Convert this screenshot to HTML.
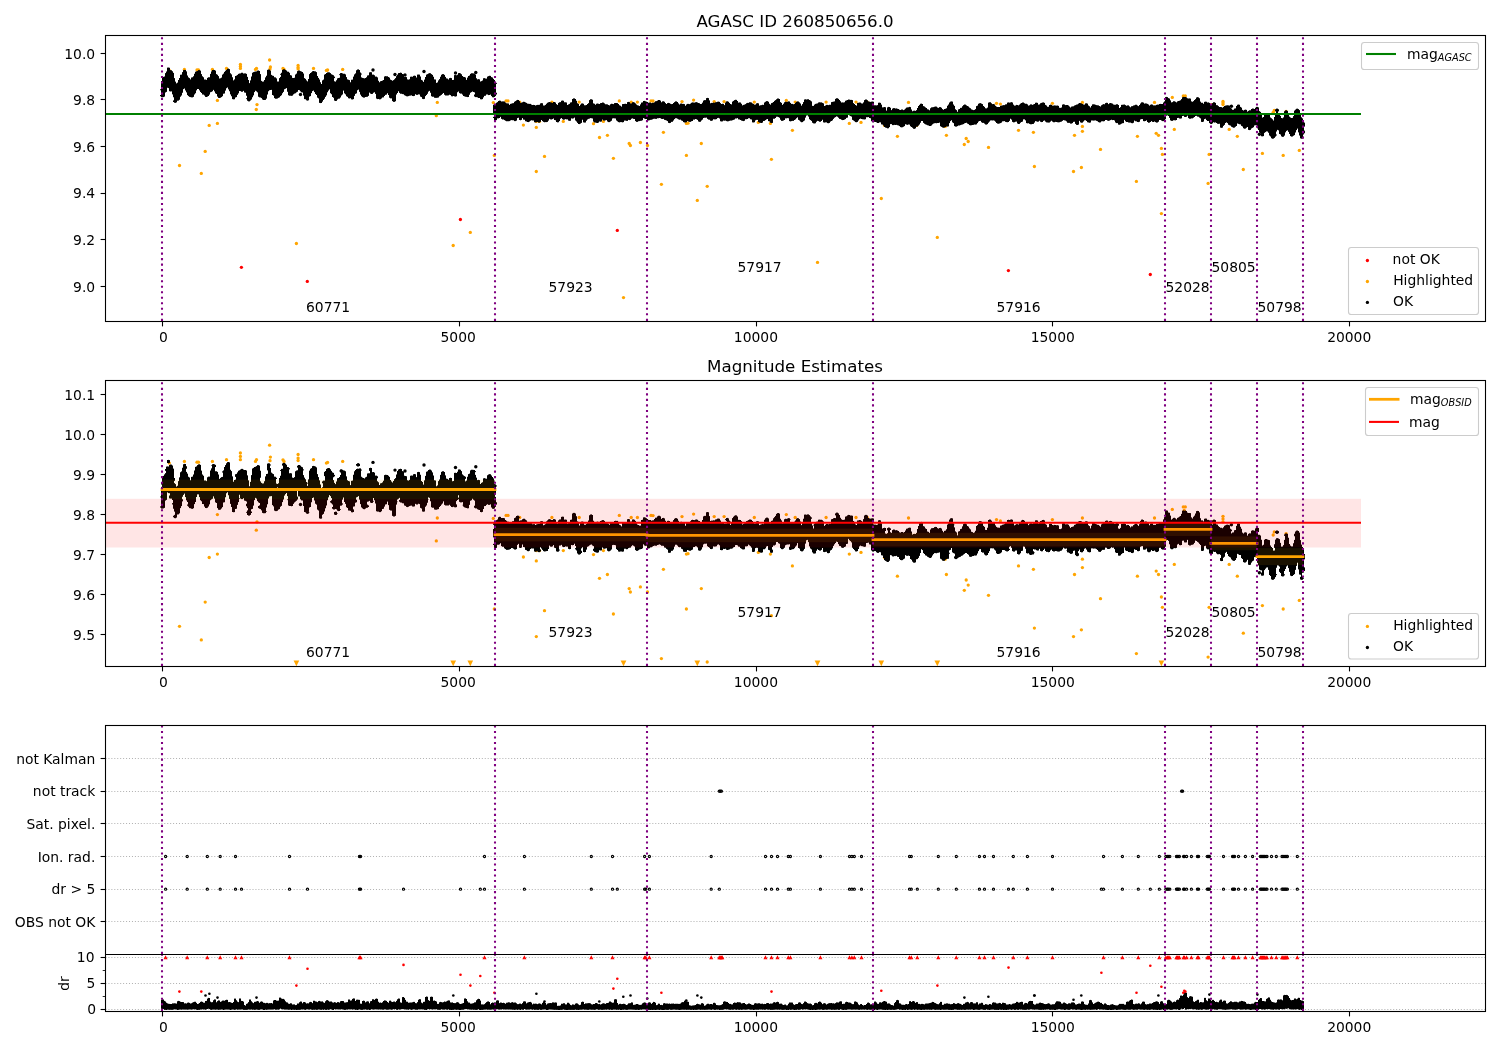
<!DOCTYPE html><html><head><meta charset="utf-8"><title>AGASC ID 260850656.0</title><style>html,body{margin:0;padding:0;background:#fff;overflow:hidden}svg{display:block}</style></head><body><svg width="1500" height="1050" viewBox="0 0 1500 1050" font-family="DejaVu Sans, Liberation Sans, sans-serif" font-size="13.89" fill="#000"><rect width="1500" height="1050" fill="#fff"/><defs><clipPath id="c1"><rect x="105.5" y="35.5" width="1380.0" height="286.0"/></clipPath><clipPath id="c2"><rect x="105.5" y="380.5" width="1380.0" height="286.0"/></clipPath><clipPath id="c3u"><rect x="105.5" y="725.5" width="1380.0" height="229.0"/></clipPath><clipPath id="c3l"><rect x="105.5" y="954.5" width="1380.0" height="57.0"/></clipPath></defs><g clip-path="url(#c1)"><g fill="#f00"><circle cx="241.4" cy="267.3" r="1.65"/><circle cx="307.3" cy="281.4" r="1.65"/><circle cx="460.4" cy="219.5" r="1.65"/><circle cx="617.3" cy="230.4" r="1.65"/><circle cx="1008.4" cy="270.6" r="1.65"/><circle cx="1150.3" cy="274.5" r="1.65"/></g><g fill="#ffa500"><circle cx="179.5" cy="165.5" r="1.65"/><circle cx="201.3" cy="173.4" r="1.65"/><circle cx="205.2" cy="151.4" r="1.65"/><circle cx="209.2" cy="125.4" r="1.65"/><circle cx="217.4" cy="123.4" r="1.65"/><circle cx="217.4" cy="100.4" r="1.65"/><circle cx="257.0" cy="104.6" r="1.65"/><circle cx="256.3" cy="109.5" r="1.65"/><circle cx="296.4" cy="243.5" r="1.65"/><circle cx="437.3" cy="102.4" r="1.65"/><circle cx="436.3" cy="115.7" r="1.65"/><circle cx="453.2" cy="245.5" r="1.65"/><circle cx="470.3" cy="232.4" r="1.65"/><circle cx="494.3" cy="155.4" r="1.65"/><circle cx="493.3" cy="102.6" r="1.65"/><circle cx="169.3" cy="70.4" r="1.65"/><circle cx="184.4" cy="69.4" r="1.65"/><circle cx="197.0" cy="69.9" r="1.65"/><circle cx="198.5" cy="69.9" r="1.65"/><circle cx="212.4" cy="69.4" r="1.65"/><circle cx="226.5" cy="68.4" r="1.65"/><circle cx="240.4" cy="64.5" r="1.65"/><circle cx="240.4" cy="66.5" r="1.65"/><circle cx="240.4" cy="68.4" r="1.65"/><circle cx="256.5" cy="68.4" r="1.65"/><circle cx="255.5" cy="69.4" r="1.65"/><circle cx="269.6" cy="60.0" r="1.65"/><circle cx="270.4" cy="66.9" r="1.65"/><circle cx="270.0" cy="69.0" r="1.65"/><circle cx="284.0" cy="69.4" r="1.65"/><circle cx="283.0" cy="68.5" r="1.65"/><circle cx="298.1" cy="65.4" r="1.65"/><circle cx="298.1" cy="67.5" r="1.65"/><circle cx="298.1" cy="68.9" r="1.65"/><circle cx="313.5" cy="68.4" r="1.65"/><circle cx="326.4" cy="70.4" r="1.65"/><circle cx="327.6" cy="70.0" r="1.65"/><circle cx="342.7" cy="69.4" r="1.65"/><circle cx="523.4" cy="125.1" r="1.65"/><circle cx="536.3" cy="127.4" r="1.65"/><circle cx="536.3" cy="121.4" r="1.65"/><circle cx="539.5" cy="121.4" r="1.65"/><circle cx="544.5" cy="156.4" r="1.65"/><circle cx="536.3" cy="171.5" r="1.65"/><circle cx="563.3" cy="121.4" r="1.65"/><circle cx="593.5" cy="123.7" r="1.65"/><circle cx="603.4" cy="121.4" r="1.65"/><circle cx="599.5" cy="137.5" r="1.65"/><circle cx="607.4" cy="135.3" r="1.65"/><circle cx="613.4" cy="158.3" r="1.65"/><circle cx="629.2" cy="143.5" r="1.65"/><circle cx="630.4" cy="145.5" r="1.65"/><circle cx="640.4" cy="142.5" r="1.65"/><circle cx="647.5" cy="145.5" r="1.65"/><circle cx="623.5" cy="297.6" r="1.65"/><circle cx="663.4" cy="132.3" r="1.65"/><circle cx="661.4" cy="184.3" r="1.65"/><circle cx="686.4" cy="155.4" r="1.65"/><circle cx="686.4" cy="123.4" r="1.65"/><circle cx="688.0" cy="123.2" r="1.65"/><circle cx="701.3" cy="143.5" r="1.65"/><circle cx="707.2" cy="186.3" r="1.65"/><circle cx="697.3" cy="200.4" r="1.65"/><circle cx="758.3" cy="122.4" r="1.65"/><circle cx="770.4" cy="123.4" r="1.65"/><circle cx="771.4" cy="159.3" r="1.65"/><circle cx="792.4" cy="130.3" r="1.65"/><circle cx="817.5" cy="262.4" r="1.65"/><circle cx="506.1" cy="100.9" r="1.65"/><circle cx="508.0" cy="100.9" r="1.65"/><circle cx="519.7" cy="102.1" r="1.65"/><circle cx="551.9" cy="102.1" r="1.65"/><circle cx="579.2" cy="102.1" r="1.65"/><circle cx="619.3" cy="100.9" r="1.65"/><circle cx="631.2" cy="102.1" r="1.65"/><circle cx="637.4" cy="102.1" r="1.65"/><circle cx="651.0" cy="100.9" r="1.65"/><circle cx="653.0" cy="101.0" r="1.65"/><circle cx="682.0" cy="101.6" r="1.65"/><circle cx="693.6" cy="100.1" r="1.65"/><circle cx="714.2" cy="101.6" r="1.65"/><circle cx="724.1" cy="101.6" r="1.65"/><circle cx="754.3" cy="102.1" r="1.65"/><circle cx="786.3" cy="100.4" r="1.65"/><circle cx="795.2" cy="102.1" r="1.65"/><circle cx="826.1" cy="102.1" r="1.65"/><circle cx="849.3" cy="123.4" r="1.65"/><circle cx="861.0" cy="122.4" r="1.65"/><circle cx="884.5" cy="125.4" r="1.65"/><circle cx="901.8" cy="125.4" r="1.65"/><circle cx="914.2" cy="125.4" r="1.65"/><circle cx="916.7" cy="125.4" r="1.65"/><circle cx="897.4" cy="136.3" r="1.65"/><circle cx="881.3" cy="198.5" r="1.65"/><circle cx="937.3" cy="237.4" r="1.65"/><circle cx="945.2" cy="126.4" r="1.65"/><circle cx="946.4" cy="135.3" r="1.65"/><circle cx="966.2" cy="138.5" r="1.65"/><circle cx="968.2" cy="141.5" r="1.65"/><circle cx="964.3" cy="144.5" r="1.65"/><circle cx="988.5" cy="147.4" r="1.65"/><circle cx="1018.5" cy="130.3" r="1.65"/><circle cx="1033.4" cy="132.3" r="1.65"/><circle cx="1034.4" cy="166.5" r="1.65"/><circle cx="1074.5" cy="135.3" r="1.65"/><circle cx="1082.4" cy="126.4" r="1.65"/><circle cx="1082.4" cy="131.3" r="1.65"/><circle cx="1073.5" cy="171.5" r="1.65"/><circle cx="1081.4" cy="167.5" r="1.65"/><circle cx="1100.5" cy="149.4" r="1.65"/><circle cx="1137.4" cy="136.3" r="1.65"/><circle cx="1136.4" cy="181.4" r="1.65"/><circle cx="1156.2" cy="133.3" r="1.65"/><circle cx="1158.5" cy="135.3" r="1.65"/><circle cx="1161.4" cy="148.4" r="1.65"/><circle cx="1162.4" cy="154.4" r="1.65"/><circle cx="1161.4" cy="213.6" r="1.65"/><circle cx="1174.3" cy="129.4" r="1.65"/><circle cx="1172.3" cy="97.4" r="1.65"/><circle cx="856.0" cy="102.1" r="1.65"/><circle cx="867.2" cy="102.1" r="1.65"/><circle cx="908.5" cy="102.4" r="1.65"/><circle cx="996.5" cy="103.3" r="1.65"/><circle cx="1000.4" cy="104.1" r="1.65"/><circle cx="1052.4" cy="103.3" r="1.65"/><circle cx="1082.4" cy="102.4" r="1.65"/><circle cx="1154.5" cy="102.4" r="1.65"/><circle cx="1183.3" cy="95.9" r="1.65"/><circle cx="1185.3" cy="95.9" r="1.65"/><circle cx="1184.2" cy="98.0" r="1.65"/><circle cx="1211.8" cy="104.6" r="1.65"/><circle cx="1223.0" cy="101.4" r="1.65"/><circle cx="1223.0" cy="103.0" r="1.65"/><circle cx="1223.0" cy="104.6" r="1.65"/><circle cx="1209.1" cy="154.4" r="1.65"/><circle cx="1208.1" cy="183.4" r="1.65"/><circle cx="1229.2" cy="129.4" r="1.65"/><circle cx="1237.3" cy="136.3" r="1.65"/><circle cx="1243.3" cy="169.5" r="1.65"/><circle cx="1262.4" cy="153.4" r="1.65"/><circle cx="1274.3" cy="110.5" r="1.65"/><circle cx="1273.2" cy="112.3" r="1.65"/><circle cx="1286.1" cy="111.5" r="1.65"/><circle cx="1283.2" cy="155.4" r="1.65"/><circle cx="1299.3" cy="150.4" r="1.65"/></g><path d="M160.5 89.25V90.25M160.5 95V96.25M161.5 81V97.25M162.5 77.75V97.38M163.5 76.88V97.12M164.5 76.5V96.62M165.5 73.12V92.5M166.5 71.5V91.88M167.5 67.62V87.75M168.5 67.5V88.12M169.5 67.75V91.25M170.5 70.12V91.5M171.5 70.25V91.38M172.5 71.25V94.38M173.5 72.88V97.25M173.5 100.38V102M174.5 78.12V102.75M175.5 81.62V102.88M176.5 83.38V102.38M177.5 82.62V100.75M178.5 80V100.62M179.5 78V99.75M180.5 74.75V96.75M181.5 74.62V95.5M182.5 72.12V92.75M183.5 70.12V89.12M184.5 69.88V88.5M185.5 70V90.5M186.5 71.38V92.38M187.5 75.5V95.12M188.5 77.38V96.12M189.5 78.12V96.88M190.5 79.38V97.12M191.5 77.5V97.38M192.5 77.25V97.38M193.5 76.25V96.88M194.5 73.75V94.5M195.5 71.75V93.25M196.5 71.25V90.38M197.5 70.88V89M198.5 70.12V89M199.5 70.12V90.38M200.5 70.62V92M201.5 74.12V93M202.5 76.25V94.5M203.5 77.25V94.62M204.5 79.5V95.5M205.5 79.5V96.88M206.5 79.88V97M207.5 77.88V96.62M208.5 77.25V96M209.5 77.25V94.62M210.5 73.88V92.25M211.5 71.38V91.88M212.5 70V91.25M213.5 69.88V89.88M214.5 70V91.38M215.5 70.62V93.38M216.5 74.12V94M217.5 74.75V96.62M218.5 76.12V97.88M219.5 78.5V98M220.5 78.25V97.75M221.5 77.62V97.12M222.5 74.62V96.25M223.5 73.62V93.75M224.5 71.88V93.5M225.5 70.75V90.62M226.5 69.88V88.25M227.5 68.75V87.5M228.5 68.62V89.38M229.5 69.12V91.25M230.5 73.25V94.38M231.5 74.38V96.25M232.5 77.25V99.12M233.5 80.38V99.38M234.5 79.38V99.25M235.5 76V97.5M236.5 75.62V97.12M237.5 74.88V94.88M238.5 73.88V93.38M239.5 73.5V91M240.5 73.38V91.12M241.5 72.75V91.75M242.5 72.75V91.75M243.5 73.5V90.88M244.5 73.38V92.5M245.5 73.38V92.75M246.5 73.88V95.75M246.5 98.25V99.12M247.5 76.88V100.75M248.5 80V101.38M249.5 83.12V101.38M250.5 80.38V100.5M251.5 76.5V99.5M252.5 72.75V97.25M253.5 72.12V95.38M254.5 71.75V92.12M255.5 71.5V90.75M256.5 71.38V91.38M257.5 70.62V92.38M258.5 70.5V96.75M259.5 71V97.38M260.5 74.12V97.5M261.5 80.88V98.12M262.5 81.62V99.5M263.5 81.5V100M264.5 80V100M265.5 77.38V99.88M266.5 75.75V98.62M267.5 69.88V94.5M268.5 69.5V91.25M269.5 69.62V90.25M270.5 70.62V90M271.5 74.88V89.88M272.5 75.62V95M273.5 75.88V95.62M274.5 77.25V98.12M275.5 77.38V98.75M276.5 78.38V98.75M277.5 81.5V98.5M278.5 81.5V97.88M279.5 78.12V97.38M280.5 73.88V74.75M280.5 76.88V96.12M281.5 72.75V95.25M282.5 69.88V93.25M283.5 69.25V91.88M284.5 69.25V89.25M285.5 69.88V88.75M286.5 70.5V88.12M287.5 71.62V91.75M288.5 71.75V95.25M289.5 72.75V95.75M290.5 75.12V95.75M291.5 75.5V95.88M292.5 77.88V95.62M293.5 78V94.38M294.5 77.75V93.62M295.5 74.5V93.25M296.5 73.62V92.38M297.5 71.12V91.75M298.5 70.5V90M299.5 70.5V90.25M300.5 71.12V91.38M301.5 71.5V92.38M302.5 72V92.5M303.5 73.5V95.62M304.5 78.12V99.12M305.5 78.88V99.25M306.5 80.38V99M307.5 81.38V98.88M308.5 79V98.62M309.5 74.12V96.62M310.5 73V96.12M311.5 72.25V93.12M312.5 71.25V91.12M313.5 71V90.62M314.5 71.25V92.12M315.5 71.38V94M316.5 72.12V95M317.5 76V97.62M318.5 77.88V98.38M319.5 79.5V102.88M320.5 82.25V103.12M321.5 84V103M322.5 80.38V101.62M323.5 79.62V100M324.5 74.62V98.75M325.5 74V96.88M326.5 73V95.38M327.5 72.38V92.25M328.5 72.25V90.62M329.5 72.38V89.38M330.5 73.12V93.25M331.5 74.25V94.25M332.5 74.75V97M333.5 75.25V97.75M334.5 76.62V78.12M334.5 81.25V100.62M335.5 81.62V101M336.5 80.25V100.88M337.5 78.38V99.5M338.5 78V98.75M339.5 74.25V75.12M339.5 77.75V98.62M340.5 73.12V97.5M341.5 73V95.5M342.5 73.38V94.5M343.5 73.75V90.62M344.5 73.75V93.38M345.5 74.38V94.38M346.5 77.12V96.25M347.5 79.38V96.88M348.5 79.75V98.25M349.5 80.12V98.5M350.5 82.25V98.25M351.5 79.75V99.38M352.5 79.62V99.5M353.5 76.62V99.12M354.5 74.38V95.88M355.5 73.38V93.88M356.5 70.25V93.38M357.5 69.5V90.25M358.5 69.38V89.62M359.5 70V91.88M360.5 72.5V94.62M361.5 73.62V74.5M361.5 77.38V96.25M362.5 77.88V97.12M363.5 78.12V97.62M364.5 78.38V97.62M365.5 78V97M366.5 77.25V96.88M367.5 75.5V96.75M368.5 75.25V95.88M369.5 72.38V92.62M370.5 72.12V93.62M371.5 72.25V94M372.5 74.62V93.88M373.5 74.62V92.75M374.5 75.25V92.25M375.5 76.62V93.88M376.5 76.62V98.62M377.5 77.38V99.12M378.5 80.75V99M379.5 82.25V99.38M380.5 81.25V99.25M381.5 81V98.5M382.5 80.62V97.5M383.5 80V97.38M384.5 76.5V96M385.5 76.12V94.88M386.5 76.25V94.62M387.5 76.25V93.25M388.5 77V95M389.5 77.62V97.75M390.5 79.62V98.38M391.5 80.12V98.38M392.5 80.75V101.12M393.5 80.12V101.88M394.5 79.25V101.88M395.5 78.12V101.25M396.5 76.12V94.5M397.5 74.62V93M398.5 73.12V91.25M399.5 73V92.88M400.5 72.62V93.75M401.5 72.88V93.75M402.5 74V94.12M403.5 74.25V94.25M404.5 77V95.25M405.5 76.88V95.75M406.5 77.12V96.25M407.5 79.38V96.38M408.5 79.62V96.12M409.5 79.25V95.75M410.5 76.75V95.62M411.5 76.62V95.38M412.5 76.75V96M413.5 75.88V96.12M414.5 75.62V95.88M415.5 75.88V94.25M416.5 77.5V94.88M417.5 74.62V94.88M418.5 74.5V94.38M419.5 74.62V94.5M420.5 76.5V96.62M421.5 79.88V97.12M422.5 80.5V98.88M423.5 81.88V99.12M424.5 79.62V98.88M425.5 77V96.12M426.5 74.62V95M427.5 74.12V93.75M428.5 73.5V91.62M429.5 73.12V90.88M430.5 73.25V92.75M431.5 74.12V96.25M432.5 74.88V96.75M433.5 76.75V96.75M434.5 79.38V97.75M435.5 79.5V97.88M436.5 82.88V97.88M437.5 82.38V97.75M438.5 80.38V97.5M439.5 79.12V96.25M440.5 76.75V95.62M441.5 74.75V94.88M442.5 74.12V93.88M443.5 74.12V93M444.5 74.88V94.75M445.5 76.88V95.5M446.5 78.38V95.5M447.5 78.62V95.5M448.5 79.5V95.38M449.5 78.12V94.75M450.5 77.88V95.12M451.5 78.12V96.25M452.5 80V96.38M453.5 79.88V96M454.5 75.12V96.38M455.5 75V96.62M456.5 75.25V96.25M457.5 74.75V92.25M458.5 73.12V91.5M459.5 73V93.12M460.5 73.38V93.62M461.5 74.25V93.62M462.5 76V94.62M463.5 76.88V96M464.5 77V96.38M465.5 77.5V96.75M466.5 79.88V96.88M467.5 77.62V97.12M468.5 76V97M469.5 75.5V94.75M470.5 73.88V92.75M471.5 73.25V92.12M472.5 73.25V91.5M473.5 73.38V92M474.5 73.5V92.38M474.5 94.5V96.5M475.5 74.5V97.12M476.5 78.25V97.12M477.5 79.38V97.38M478.5 79.12V98M479.5 79.38V98M480.5 81.5V99.25M481.5 81.12V99.38M482.5 80.5V99.12M483.5 78.25V97.38M484.5 78.12V95.88M485.5 78.5V95.75M486.5 78.62V94.5M487.5 76.62V94.5M488.5 76.12V95.12M489.5 75.75V95M490.5 75.88V94.62M491.5 77.12V96.12M492.5 77.5V97.25M493.5 78.88V97.38M493.5 104.75V113.75M493.5 116.88V118M494.5 80V97M494.5 103.88V120M495.5 81.75V96.12M495.5 103.88V120.25M496.5 82.88V83.88M496.5 92.75V94.5M496.5 102.75V120.12M497.5 102.12V118.38M498.5 101V118.38M499.5 100.62V118M500.5 100.75V116.88M501.5 101.5V118.88M502.5 101.38V119.5M503.5 101.38V119.5M504.5 101.5V120.12M505.5 102.5V120.75M506.5 103.25V121.25M507.5 103.38V121.25M508.5 103.5V121.25M509.5 104.88V121.12M510.5 103.88V120.5M511.5 103.62V120.12M512.5 103.25V120.25M513.5 103.12V120.25M514.5 101.75V121.12M515.5 101.12V121.12M516.5 100.38V120.62M517.5 99.88V118.12M518.5 100V117.75M519.5 101.12V120M520.5 102.75V120.25M521.5 102.62V119.88M522.5 102.25V118.12M523.5 101.75V119.62M524.5 101.88V119.75M525.5 102.38V121.25M526.5 102.88V121.5M527.5 103.62V122M528.5 103.75V122.12M529.5 103.88V121.62M530.5 103.88V120.75M531.5 104.62V120.25M532.5 105V120.5M533.5 104.88V120.5M534.5 105V122.25M535.5 105.5V122.38M536.5 105.12V122.25M537.5 104.88V122M538.5 104.88V122.62M539.5 104.75V122.62M540.5 103.38V121.88M541.5 103.12V120M542.5 103.25V121.12M543.5 105.5V121.88M544.5 105.5V122.25M545.5 104.88V122.12M546.5 103.75V122.12M547.5 102.75V121.88M548.5 102.25V120.62M549.5 102V118.88M550.5 102.25V119.38M551.5 102.5V119.5M552.5 102.88V119.12M553.5 102V118.5M554.5 102V120M555.5 102.5V120.25M556.5 104.12V122M557.5 104.88V122.38M558.5 102.88V122.25M559.5 102.25V121.12M560.5 102.12V118.75M561.5 100.75V118.12M562.5 100.5V119.25M563.5 100.75V119.75M564.5 102.25V119.62M565.5 102.25V119.12M566.5 102.5V119.38M567.5 105V119.38M568.5 104.38V120.62M569.5 103.88V120.88M570.5 102.5V120.75M571.5 102.25V118.38M572.5 99V118.62M573.5 98.38V118.38M574.5 98.38V117.62M575.5 99V120.5M576.5 100.75V121.5M577.5 103.25V122.88M578.5 103.88V124M579.5 106V124.12M580.5 104.62V123.62M581.5 103.5V122.88M582.5 103.38V119.75M583.5 103.75V122.38M584.5 105.25V122.62M585.5 105.25V122.5M586.5 105V120.75M587.5 104V119.5M588.5 103.12V118.88M589.5 100.12V118.62M590.5 99.25V118.12M591.5 99.25V118.25M592.5 99.75V118.5M593.5 103.38V121.62M594.5 103.75V122.5M595.5 104.75V122.62M596.5 103.75V122.88M597.5 103.5V123M598.5 103.75V122.62M599.5 104V121.5M600.5 103.12V121.75M601.5 103V121.5M602.5 102.5V119.62M603.5 102.62V120.5M604.5 103.38V120.62M605.5 104.25V120.38M606.5 104.25V120.12M607.5 104.38V121.5M608.5 105V122.12M609.5 105.38V122.12M610.5 104.25V121.5M611.5 103.75V120.75M612.5 103.88V118.5M613.5 104.12V118.25M614.5 103.12V118.38M615.5 103V118.5M616.5 103V120.5M617.5 103.12V121.38M618.5 104V122.12M619.5 105.25V122.38M620.5 105.75V122.12M621.5 106.62V122.12M622.5 104.12V122.38M623.5 104V122.12M624.5 103.88V120.62M625.5 103.75V120.62M626.5 104V120.88M627.5 102.12V120.88M628.5 101.88V119.88M629.5 102.12V120.12M630.5 103.38V119.88M631.5 103.38V118.75M632.5 102.25V118.38M633.5 102.12V118.88M634.5 102.5V119M635.5 103.38V121.12M636.5 104.5V121.88M637.5 105.25V121.88M638.5 105.5V121.25M639.5 106V121.12M640.5 104.38V120.88M641.5 102.62V120.75M642.5 102.38V120.25M643.5 101V118.12M644.5 100.88V118.62M645.5 101.25V119M646.5 101.62V119M647.5 102V120.38M648.5 102.75V120.5M649.5 102.5V120.25M650.5 102.5V119.88M651.5 103.12V119.75M652.5 102.75V119.38M653.5 102.75V118.88M654.5 102.25V118.75M655.5 101.25V118.88M656.5 101.12V118.88M657.5 100.62V118.25M658.5 100V118.25M659.5 100V118M660.5 100.62V118.25M661.5 102.25V118.88M662.5 101.38V119M663.5 101.25V118.88M664.5 101.75V119.88M665.5 103.12V120.12M666.5 104V120.5M667.5 103.12V121.12M668.5 102.88V122.88M669.5 103.12V123.12M670.5 103.75V122.88M671.5 104.12V121.88M672.5 104V121.75M673.5 103V120.5M674.5 102.12V119.12M675.5 101.38V118.25M676.5 101.38V118.25M677.5 102V118.75M678.5 103.38V119.38M679.5 104.5V119.75M680.5 103.62V119.62M681.5 103.5V120.5M682.5 103.88V120.88M683.5 103.88V122.12M684.5 104.12V122.5M685.5 105.75V122.5M686.5 104.5V122.25M687.5 103.88V121.12M688.5 103.88V121.62M689.5 104.12V121.88M690.5 103.62V121.88M691.5 102.75V121.25M692.5 102.38V121M693.5 102.5V119.62M694.5 102.62V119.62M695.5 102.25V119M696.5 102.12V119.25M697.5 102.5V119.88M698.5 103V121.5M699.5 103.25V121.88M700.5 104V121.75M701.5 103.88V120.5M702.5 102.62V119.62M703.5 100.62V118M704.5 100.12V117.75M705.5 100.12V117.75M706.5 98.12V117.62M707.5 97.88V118.88M708.5 98.12V119.62M709.5 100.38V119.75M710.5 103.25V120.75M711.5 102.88V120.88M712.5 102.88V120.5M713.5 102.62V119.25M714.5 102.75V119.38M715.5 102.25V119.38M716.5 102.12V119.12M717.5 101.75V118.12M718.5 101.62V117.88M719.5 101.88V118.5M720.5 103.12V121.25M721.5 104V121.5M722.5 103.75V121.38M723.5 103.88V120.62M724.5 105.12V120.75M725.5 102.5V120.62M726.5 101.38V121.12M727.5 101.25V121.38M728.5 101.75V121.25M729.5 102.88V120.88M730.5 104V120.62M731.5 104.38V120.62M732.5 101.62V120.25M733.5 100.88V119.88M734.5 100.12V119.5M735.5 99.75V118.5M736.5 99.88V118.5M737.5 101V118.12M738.5 102.62V119.38M739.5 102.38V119.5M740.5 102.5V120M741.5 103.75V120.62M742.5 105.38V120.88M743.5 104.88V121.12M744.5 104.62V120.75M745.5 104.12V119.25M746.5 103.25V119.25M747.5 102.88V119M748.5 102.88V118.25M749.5 102.25V118.25M750.5 102.25V119.25M751.5 102.5V119.5M752.5 103.38V122.38M753.5 103.88V122.5M754.5 104.62V122.25M755.5 104.5V120.38M756.5 103.38V119.88M757.5 103.12V119.88M758.5 103.38V122.12M759.5 105.62V122.62M760.5 105.25V122.88M761.5 105.12V123M762.5 104.75V122.62M763.5 104.88V121M764.5 102.5V120.88M765.5 101.75V120.12M766.5 101.12V119.38M767.5 101.12V119M768.5 101.75V121.12M769.5 103.75V121.5M770.5 104.62V122.75M771.5 103.12V123M772.5 102.75V122.88M773.5 102V118.75M774.5 100.88V118.75M775.5 100.12V118M776.5 99.25V116.75M777.5 98.5V116.75M778.5 98.5V117.12M779.5 99V117.75M780.5 102.12V119.75M781.5 102.88V120.88M782.5 104.88V120.88M783.5 103.75V120.5M784.5 102.25V120M785.5 101.75V118.38M786.5 101.88V118.38M787.5 101.75V118.12M788.5 101.38V118.25M789.5 101.5V121.12M790.5 102.88V121.38M791.5 103.88V121.12M792.5 103.88V120.88M793.5 104.25V120.88M794.5 104V120M795.5 102.75V119.38M796.5 101.88V118.25M797.5 101.38V117.38M798.5 101.5V119.88M799.5 102.38V120.5M800.5 103.5V121.62M801.5 105.62V122.25M802.5 104.12V122.12M803.5 102.12V121.25M804.5 99.5V120.5M805.5 99.25V117.62M806.5 99.5V115.62M807.5 99.25V115.38M808.5 99.25V116.62M809.5 100V119.25M810.5 100.5V120.12M811.5 101.38V120.88M812.5 105.88V122.75M813.5 105.88V123.38M814.5 104.62V123.5M815.5 103.88V123.25M816.5 103.62V121.75M817.5 103.38V120.88M818.5 102.5V121.12M819.5 102.25V121.75M820.5 102.38V121.75M821.5 102.38V121M822.5 102.88V119.75M823.5 103.38V122.38M824.5 106V122.62M825.5 105.5V122.38M826.5 104.88V122.38M827.5 104.88V123.12M828.5 105.12V123.25M829.5 104.75V122.88M830.5 104.75V121.62M831.5 102.12V121M832.5 101.88V120.38M833.5 101.62V118.88M834.5 101.38V117.75M835.5 98.88V117.12M836.5 98.25V116.38M837.5 98.25V116.75M838.5 98.88V117.75M839.5 100V118.88M840.5 101.25V119.12M841.5 102.5V119.75M842.5 102.38V120.12M843.5 102.5V120M844.5 102.25V119.62M845.5 100.75V119.12M846.5 100.38V117.88M847.5 100V117.62M848.5 99.5V114.62M849.5 99.62V115.5M850.5 99.88V116.12M851.5 99.88V116.62M852.5 100.12V119.88M853.5 103.12V120.5M854.5 104V121.25M855.5 105V122.12M856.5 105.62V122.25M857.5 102.88V121.88M858.5 102.75V120.5M859.5 102.5V119.12M860.5 102.62V118.62M861.5 103.38V119M862.5 103.5V119.25M863.5 102.38V119.38M864.5 100.12V119.5M865.5 99.5V119.25M866.5 99.5V117.25M867.5 100.25V117.25M868.5 101.38V117.12M869.5 101.62V118M870.5 101.88V118.25M871.5 101.62V121.25M872.5 101.5V122.25M873.5 101.75V122.38M874.5 105.25V121.88M875.5 105.25V122M876.5 105.38V122.38M877.5 105.12V123M878.5 102.75V123M879.5 102.62V122.38M880.5 102.88V122.38M881.5 104.62V124.38M882.5 107.38V124.62M883.5 107.25V125.62M884.5 107V127M885.5 107.25V127.62M886.5 110.62V127.88M887.5 107.38V128.38M888.5 106.88V128.25M889.5 107V127.12M890.5 107.75V124.12M891.5 110.12V124.12M892.5 108.62V125.12M893.5 108.12V125.12M894.5 108.12V124.88M895.5 108.5V125M896.5 108.38V124.88M897.5 108.75V125.25M898.5 109V125.5M899.5 109.75V126.12M900.5 110V127.12M901.5 109.5V127.38M902.5 109.5V127.25M903.5 110.12V126.75M904.5 109.62V126.12M905.5 108.62V124.25M906.5 107.62V124.62M907.5 107.38V124.88M908.5 107.25V124.5M909.5 106.88V124.62M910.5 107.12V126.25M911.5 109.5V127M912.5 111.25V127.75M913.5 110.75V128.75M914.5 110.62V128.88M915.5 110.88V128.38M916.5 110.12V126.75M917.5 108V126.62M918.5 106V125.62M919.5 104.88V124.5M920.5 103.75V122.75M921.5 103.62V121M922.5 104V121M923.5 106.12V122.88M924.5 106.5V123.75M925.5 107.38V124.38M926.5 108V124.75M927.5 109.25V125.25M928.5 109.5V125.5M929.5 110.25V126M930.5 108.25V126M931.5 107.38V125.5M932.5 107.25V124.38M933.5 107.12V123.62M934.5 106.75V123.25M935.5 106.5V123.12M936.5 106.62V123.25M937.5 107.5V123M938.5 107.88V123M939.5 107.12V122.62M940.5 107.12V126.25M941.5 107.75V126.88M942.5 109.12V127.5M943.5 109.75V127.75M944.5 109V127.5M945.5 108.75V127M946.5 108.25V126.5M947.5 105.75V126.62M948.5 104.5V126.38M949.5 102.5V123.12M950.5 101.62V121.12M951.5 101.38V120.25M952.5 101.62V122.38M953.5 104.5V123.12M954.5 105.88V126.12M955.5 109.25V126.62M956.5 110.12V126.62M957.5 111.75V126.12M958.5 109.38V125.5M959.5 109V125.5M960.5 107.88V125.12M961.5 107.75V124.75M962.5 106.25V124.5M963.5 105.12V124.12M964.5 104.5V123.38M965.5 104.62V123M966.5 105.38V122.75M967.5 106V123.62M968.5 106.5V124.12M969.5 107.62V125.12M970.5 108.25V125.38M971.5 109.38V125.25M972.5 109.75V125M973.5 110.12V124.88M974.5 109.88V124.5M975.5 109.12V124.62M976.5 106.12V124.38M977.5 105.62V123.12M978.5 103.75V121.62M979.5 103.25V121M980.5 103.12V120.88M981.5 103.62V122.25M982.5 104.12V122.88M983.5 106V122.88M984.5 106.88V123.62M985.5 108.25V124.5M986.5 108.38V124.62M987.5 107.62V124.12M988.5 102.62V122.75M989.5 102.25V121.62M990.5 102.25V120.5M991.5 103.25V120.38M992.5 104.12V120.5M993.5 104V120.38M994.5 104.38V120.75M995.5 105.75V121.75M996.5 106.62V123M997.5 107V123.62M998.5 107V123.75M999.5 107V123.5M1000.5 105.88V123.12M1001.5 105.62V122.62M1002.5 105.38V121.38M1003.5 105.12V121.25M1004.5 105.12V121.12M1005.5 104.38V121.88M1006.5 104.25V122.12M1007.5 102.62V122.25M1008.5 102.38V122M1009.5 102.62V120.88M1010.5 102.38V118.75M1011.5 102.12V119.62M1012.5 102.5V121.88M1013.5 104.62V122.38M1014.5 105.62V122.25M1015.5 105.5V121.75M1016.5 104.88V121.62M1017.5 105V123.5M1018.5 105.38V124M1019.5 104.62V123.88M1020.5 103.62V122.75M1021.5 103V122M1022.5 102.5V121.62M1023.5 102.5V119.38M1024.5 103.25V119.38M1025.5 103.75V120.38M1026.5 103.75V123.12M1027.5 104.38V123.38M1028.5 105.62V123.25M1029.5 105.25V123.88M1030.5 104.38V124.25M1031.5 104.38V124.25M1032.5 104.88V124M1033.5 104.38V123.88M1034.5 104V122.62M1035.5 102.75V121.12M1036.5 102.62V121.38M1037.5 102.88V121.75M1038.5 104.62V121.62M1039.5 104.38V120.75M1040.5 103.25V121.75M1041.5 102.88V122.12M1042.5 102.5V122M1043.5 102.38V120.88M1044.5 102.88V120.5M1045.5 104.88V121.62M1046.5 105.5V122.38M1047.5 106.75V122.5M1048.5 106.75V122.62M1049.5 105V122.5M1050.5 104.62V121.62M1051.5 104.88V120.75M1052.5 105.62V121.62M1053.5 105.62V122.25M1054.5 105.38V122.25M1055.5 105.5V121.88M1056.5 105.62V122M1057.5 105.5V122.25M1058.5 105.88V122.38M1059.5 107.75V122.25M1060.5 107.88V121.88M1061.5 107.5V121.62M1062.5 104.62V120.88M1063.5 104.25V120.12M1064.5 104.5V120.38M1065.5 105.12V120.62M1066.5 105V121.38M1067.5 105V122.75M1068.5 105.5V122.88M1069.5 106.5V122.88M1070.5 107.5V123.62M1071.5 106.62V123.62M1072.5 106.38V123.12M1073.5 106.25V121.88M1074.5 105.5V121.75M1075.5 105.12V123.88M1076.5 104.62V124.88M1077.5 104.38V125M1078.5 103.62V124.62M1079.5 103V120.88M1080.5 103.12V122.38M1081.5 103.38V122.75M1082.5 104V122.62M1083.5 104.5V121.5M1084.5 104.62V120.38M1085.5 103.38V120.25M1086.5 103.25V121M1087.5 103.62V122.25M1088.5 105.5V122.5M1089.5 106.25V122.75M1090.5 107.5V122.5M1091.5 105.88V120.5M1092.5 104.38V120.5M1093.5 104.25V120.62M1094.5 104.38V120.5M1095.5 104.75V120.38M1096.5 105.12V120.88M1097.5 105.25V121.25M1098.5 105.38V122.12M1099.5 106V122.5M1100.5 106.5V122.38M1101.5 105.25V121.38M1102.5 104.62V121.25M1103.5 104.12V121.38M1104.5 104.25V121.12M1105.5 103.12V120M1106.5 102.75V120M1107.5 102.88V120.62M1108.5 104.12V120.88M1109.5 103.25V120.62M1110.5 103V120.12M1111.5 103.25V119.75M1112.5 103.62V120.12M1113.5 104.5V120M1114.5 104.75V120.5M1115.5 104.75V122.5M1116.5 104.25V123.12M1117.5 104.25V123.12M1118.5 105V124.62M1119.5 108V124.75M1120.5 107.12V124.38M1121.5 104.88V123.75M1122.5 104.75V123.25M1123.5 104.62V123.12M1124.5 104.5V119.88M1125.5 105.12V121.25M1126.5 105.75V122M1127.5 105.38V122M1128.5 105.38V122.5M1129.5 106.38V122.62M1130.5 107.25V122.62M1131.5 106.25V123.12M1132.5 106.12V123.25M1133.5 105.5V122.75M1134.5 105.25V120.62M1135.5 104.75V121.25M1136.5 104.75V121.38M1137.5 105.5V122M1138.5 106.12V122.12M1139.5 105V121.75M1140.5 103.5V119.5M1141.5 102.38V119.12M1142.5 102.25V119.12M1143.5 102.62V121.12M1144.5 103.62V121.25M1145.5 103.38V121M1146.5 103.5V120.38M1147.5 103.88V122M1148.5 104.5V122.75M1149.5 105.62V122.62M1150.5 104.75V122M1151.5 104.38V121.12M1152.5 104.62V121.88M1153.5 105.38V122M1154.5 105.38V121.5M1155.5 105.38V122.12M1156.5 104.88V122.62M1157.5 104.62V122.5M1158.5 104.62V121.75M1159.5 104V120M1160.5 103.88V120M1161.5 104V120.62M1162.5 104V121.12M1163.5 102.5V121.12M1164.5 101.38V120.25M1165.5 97.12V119.25M1166.5 96.88V115.75M1167.5 97.12V115.38M1168.5 98.12V116M1169.5 98.5V117.88M1170.5 100.38V120.38M1171.5 102.38V120.88M1172.5 102.12V120.88M1173.5 101.25V120.25M1174.5 101.25V120.25M1175.5 101.75V120.38M1176.5 102.38V120M1177.5 101.38V118M1178.5 101V117.88M1179.5 100.75V118.5M1180.5 100.25V118.62M1181.5 99.12V118.38M1182.5 97.25V116M1183.5 96.88V115.88M1184.5 97V116.88M1185.5 97V117M1186.5 97.38V116.75M1187.5 98.25V115.75M1188.5 98.5V118.12M1189.5 98.38V118.75M1190.5 98.62V118.75M1191.5 101.38V118.38M1192.5 101.75V118.38M1193.5 101.12V117.75M1194.5 100V117M1195.5 99.12V116M1196.5 97.5V115.88M1197.5 97.12V116.62M1198.5 97.38V116.75M1199.5 98.25V117.62M1200.5 101.62V118.38M1201.5 102.75V121.88M1202.5 102.75V122M1203.5 103.75V121.62M1204.5 101.88V119.12M1205.5 101.62V118.75M1206.5 101.75V120.12M1207.5 102.5V121M1208.5 102.38V121M1209.5 102.88V123.12M1210.5 103.75V123.88M1211.5 104.62V124M1212.5 103.12V123.38M1213.5 102.25V122.25M1214.5 102.25V122.62M1215.5 102.88V122.38M1216.5 105.12V123M1217.5 105.25V123.75M1218.5 106.12V123.88M1219.5 107V123.75M1220.5 107V127.62M1221.5 107.12V127.88M1222.5 107.62V127.62M1223.5 106.88V125.88M1224.5 106V124.88M1225.5 105.62V123M1226.5 105.38V122.38M1227.5 105.25V123.12M1228.5 105.38V124.75M1229.5 105.62V125.25M1230.5 107.62V125.62M1231.5 108.5V126.75M1232.5 109.75V127.25M1233.5 109.75V127.75M1234.5 108.62V127.62M1235.5 108.38V126.75M1236.5 106V126M1237.5 104.75V123.5M1238.5 104.5V123.88M1239.5 104.75V124.25M1240.5 106.88V124.38M1241.5 107.62V125.88M1242.5 109.88V126.5M1243.5 110.5V128.25M1244.5 109.88V128.75M1245.5 109.62V128.62M1246.5 109.88V127.75M1247.5 111.62V127M1248.5 110.88V129.88M1249.5 110.25V130.12M1250.5 110.25V129.88M1251.5 109V128.5M1252.5 108.5V127.88M1253.5 108.62V127.25M1254.5 109V125.5M1255.5 107.75V125.25M1256.5 106.88V125.25M1257.5 106.88V128.38M1258.5 107.38V130M1259.5 111.12V132.5M1260.5 111.88V133.12M1261.5 114.25V136.25M1262.5 117.62V136.38M1263.5 117V136.12M1264.5 114.38V132.88M1265.5 113.62V132.12M1266.5 113.5V131.38M1267.5 114.12V131.5M1268.5 114V132.75M1269.5 114.38V135.5M1270.5 117.5V136.5M1271.5 118.25V138.25M1272.5 119.25V138.75M1273.5 120.5V138.62M1274.5 117V137.88M1275.5 109.38V111.25M1275.5 114.5V136.62M1276.5 108.62V131.5M1276.5 134.5V135.5M1277.5 108.62V129.88M1278.5 109.25V111.38M1278.5 113.5V130.38M1279.5 113.75V134M1280.5 115.88V134.5M1281.5 118V136.38M1282.5 118.25V136.88M1283.5 117.38V136.75M1284.5 111.25V135.62M1285.5 110.38V132.38M1286.5 110.25V130.88M1287.5 110.88V130.38M1288.5 113.12V131.88M1289.5 116.62V134M1290.5 117.5V136.12M1291.5 118V136.62M1292.5 117.88V136.5M1293.5 116.12V135.75M1294.5 110.62V135.12M1295.5 109.62V132.5M1296.5 108.75V130.12M1297.5 108.62V128.62M1298.5 109.12V132.38M1299.5 110.12V135.5M1300.5 114.5V138.38M1301.5 117.25V138.75M1302.5 118.38V138.62M1303.5 120.12V134.5M1303.5 136.62V137.62M1304.5 122.62V126.62M1304.5 130.62V133.25" stroke="#000" stroke-width="1" fill="none"/><g fill="#000"><circle cx="1231.4" cy="106.3" r="1.7"/><circle cx="1259.4" cy="134.3" r="1.7"/><circle cx="300.5" cy="94.5" r="1.7"/><circle cx="307.5" cy="99.0" r="1.7"/><circle cx="373.0" cy="70.0" r="1.7"/><circle cx="424.0" cy="71.5" r="1.7"/><circle cx="455.5" cy="73.0" r="1.7"/><circle cx="475.8" cy="72.5" r="1.7"/><circle cx="395.0" cy="74.5" r="1.7"/><circle cx="405.0" cy="75.0" r="1.7"/></g><path d="M105.5 114H1361" stroke="#008000" stroke-width="2.08"/><g stroke="#800080" stroke-width="2.08" stroke-dasharray="2.08 3.44" fill="none"><path d="M162.0 320.88V35.5"/><path d="M495.0 320.88V35.5"/><path d="M647.0 320.88V35.5"/><path d="M873.0 320.88V35.5"/><path d="M1165.0 320.88V35.5"/><path d="M1211.0 320.88V35.5"/><path d="M1257.0 320.88V35.5"/><path d="M1303.0 320.88V35.5"/></g></g><rect x="105.5" y="35.5" width="1380.0" height="286.0" fill="none" stroke="#000" stroke-width="1.1"/><g stroke="#000" stroke-width="1.1"><path d="M162.5 321.5v4.9"/><path d="M459.5 321.5v4.9"/><path d="M756.5 321.5v4.9"/><path d="M1052.5 321.5v4.9"/><path d="M1349.5 321.5v4.9"/></g><g text-anchor="middle"><text x="163.3" y="341.9">0</text><text x="458.2" y="341.9">5000</text><text x="755.9" y="341.9">10000</text><text x="1052.8" y="341.9">15000</text><text x="1349.2" y="341.9">20000</text></g><g stroke="#000" stroke-width="1.1"><path d="M105.5 286.5h-4.9"/><path d="M105.5 239.5h-4.9"/><path d="M105.5 193.5h-4.9"/><path d="M105.5 146.5h-4.9"/><path d="M105.5 99.5h-4.9"/><path d="M105.5 53.5h-4.9"/></g><g text-anchor="end"><text x="95.2" y="291.6">9.0</text><text x="95.2" y="245.0">9.2</text><text x="95.2" y="198.4">9.4</text><text x="95.2" y="151.8">9.6</text><text x="95.2" y="105.2">9.8</text><text x="95.2" y="58.6">10.0</text></g><text x="795.0" y="26.6" font-size="16.67" text-anchor="middle">AGASC ID 260850656.0</text><g text-anchor="middle"><text x="328.1" y="311.6">60771</text><text x="570.6" y="291.7">57923</text><text x="759.6" y="271.8">57917</text><text x="1018.6" y="311.6">57916</text><text x="1187.6" y="291.7">52028</text><text x="1233.6" y="271.8">50805</text><text x="1279.6" y="311.6">50798</text></g><rect x="1361.5" y="42.5" width="117.0" height="27.0" rx="2.8" fill="#fff" fill-opacity="0.8" stroke="#ccc" stroke-width="1.1"/><path d="M1366 54H1396" stroke="#008000" stroke-width="2.08"/><text x="1407" y="58.7">mag<tspan font-size="9.72" font-style="oblique" dy="2.3">AGASC</tspan></text><rect x="1348.5" y="247.5" width="130.0" height="67.0" rx="2.8" fill="#fff" fill-opacity="0.8" stroke="#ccc" stroke-width="1.1"/><circle cx="1367.4" cy="260.5" r="1.65" fill="#f00"/><circle cx="1367.4" cy="281.5" r="1.65" fill="#ffa500"/><circle cx="1367.4" cy="302.4" r="1.65" fill="#000"/><text x="1392.6" y="263.8">not OK</text><text x="1393.2" y="284.7">Highlighted</text><text x="1393" y="305.6">OK</text><g clip-path="url(#c2)"><g fill="#ffa500"><circle cx="179.5" cy="626.3" r="1.65"/><circle cx="201.3" cy="639.9" r="1.65"/><circle cx="205.2" cy="602.1" r="1.65"/><circle cx="209.2" cy="557.5" r="1.65"/><circle cx="217.4" cy="554.1" r="1.65"/><circle cx="217.4" cy="514.6" r="1.65"/><circle cx="257.0" cy="521.8" r="1.65"/><circle cx="256.3" cy="530.2" r="1.65"/><circle cx="437.3" cy="518.0" r="1.65"/><circle cx="436.3" cy="540.9" r="1.65"/><circle cx="494.3" cy="609.0" r="1.65"/><circle cx="493.3" cy="518.4" r="1.65"/><circle cx="169.3" cy="463.1" r="1.65"/><circle cx="184.4" cy="461.4" r="1.65"/><circle cx="197.0" cy="462.2" r="1.65"/><circle cx="198.5" cy="462.2" r="1.65"/><circle cx="212.4" cy="461.4" r="1.65"/><circle cx="226.5" cy="459.7" r="1.65"/><circle cx="240.4" cy="453.0" r="1.65"/><circle cx="240.4" cy="456.4" r="1.65"/><circle cx="240.4" cy="459.7" r="1.65"/><circle cx="256.5" cy="459.7" r="1.65"/><circle cx="255.5" cy="461.4" r="1.65"/><circle cx="269.6" cy="445.2" r="1.65"/><circle cx="270.4" cy="457.1" r="1.65"/><circle cx="270.0" cy="460.7" r="1.65"/><circle cx="284.0" cy="461.4" r="1.65"/><circle cx="283.0" cy="459.8" r="1.65"/><circle cx="298.1" cy="454.5" r="1.65"/><circle cx="298.1" cy="458.1" r="1.65"/><circle cx="298.1" cy="460.5" r="1.65"/><circle cx="313.5" cy="459.7" r="1.65"/><circle cx="326.4" cy="463.1" r="1.65"/><circle cx="327.6" cy="462.4" r="1.65"/><circle cx="342.7" cy="461.4" r="1.65"/><circle cx="523.4" cy="557.0" r="1.65"/><circle cx="536.3" cy="560.9" r="1.65"/><circle cx="536.3" cy="550.6" r="1.65"/><circle cx="539.5" cy="550.6" r="1.65"/><circle cx="544.5" cy="610.7" r="1.65"/><circle cx="536.3" cy="636.6" r="1.65"/><circle cx="563.3" cy="550.6" r="1.65"/><circle cx="593.5" cy="554.6" r="1.65"/><circle cx="603.4" cy="550.6" r="1.65"/><circle cx="599.5" cy="578.3" r="1.65"/><circle cx="607.4" cy="574.5" r="1.65"/><circle cx="613.4" cy="614.0" r="1.65"/><circle cx="629.2" cy="588.6" r="1.65"/><circle cx="630.4" cy="592.0" r="1.65"/><circle cx="640.4" cy="586.9" r="1.65"/><circle cx="647.5" cy="592.0" r="1.65"/><circle cx="663.4" cy="569.3" r="1.65"/><circle cx="661.4" cy="658.6" r="1.65"/><circle cx="686.4" cy="609.0" r="1.65"/><circle cx="686.4" cy="554.1" r="1.65"/><circle cx="688.0" cy="553.7" r="1.65"/><circle cx="701.3" cy="588.6" r="1.65"/><circle cx="707.2" cy="662.0" r="1.65"/><circle cx="758.3" cy="552.4" r="1.65"/><circle cx="770.4" cy="554.1" r="1.65"/><circle cx="771.4" cy="615.7" r="1.65"/><circle cx="792.4" cy="565.9" r="1.65"/><circle cx="506.1" cy="515.4" r="1.65"/><circle cx="508.0" cy="515.4" r="1.65"/><circle cx="519.7" cy="517.5" r="1.65"/><circle cx="551.9" cy="517.5" r="1.65"/><circle cx="579.2" cy="517.5" r="1.65"/><circle cx="619.3" cy="515.4" r="1.65"/><circle cx="631.2" cy="517.5" r="1.65"/><circle cx="637.4" cy="517.5" r="1.65"/><circle cx="651.0" cy="515.4" r="1.65"/><circle cx="653.0" cy="515.6" r="1.65"/><circle cx="682.0" cy="516.6" r="1.65"/><circle cx="693.6" cy="514.1" r="1.65"/><circle cx="714.2" cy="516.6" r="1.65"/><circle cx="724.1" cy="516.6" r="1.65"/><circle cx="754.3" cy="517.5" r="1.65"/><circle cx="786.3" cy="514.6" r="1.65"/><circle cx="795.2" cy="517.5" r="1.65"/><circle cx="826.1" cy="517.5" r="1.65"/><circle cx="849.3" cy="554.1" r="1.65"/><circle cx="861.0" cy="552.4" r="1.65"/><circle cx="884.5" cy="557.5" r="1.65"/><circle cx="901.8" cy="557.5" r="1.65"/><circle cx="914.2" cy="557.5" r="1.65"/><circle cx="916.7" cy="557.5" r="1.65"/><circle cx="897.4" cy="576.2" r="1.65"/><circle cx="945.2" cy="559.2" r="1.65"/><circle cx="946.4" cy="574.5" r="1.65"/><circle cx="966.2" cy="580.0" r="1.65"/><circle cx="968.2" cy="585.1" r="1.65"/><circle cx="964.3" cy="590.3" r="1.65"/><circle cx="988.5" cy="595.3" r="1.65"/><circle cx="1018.5" cy="565.9" r="1.65"/><circle cx="1033.4" cy="569.3" r="1.65"/><circle cx="1034.4" cy="628.1" r="1.65"/><circle cx="1074.5" cy="574.5" r="1.65"/><circle cx="1082.4" cy="559.2" r="1.65"/><circle cx="1082.4" cy="567.6" r="1.65"/><circle cx="1073.5" cy="636.6" r="1.65"/><circle cx="1081.4" cy="629.8" r="1.65"/><circle cx="1100.5" cy="598.7" r="1.65"/><circle cx="1137.4" cy="576.2" r="1.65"/><circle cx="1136.4" cy="653.6" r="1.65"/><circle cx="1156.2" cy="571.1" r="1.65"/><circle cx="1158.5" cy="574.5" r="1.65"/><circle cx="1161.4" cy="597.0" r="1.65"/><circle cx="1162.4" cy="607.3" r="1.65"/><circle cx="1174.3" cy="564.4" r="1.65"/><circle cx="1172.3" cy="509.4" r="1.65"/><circle cx="856.0" cy="517.5" r="1.65"/><circle cx="867.2" cy="517.5" r="1.65"/><circle cx="908.5" cy="518.0" r="1.65"/><circle cx="996.5" cy="519.6" r="1.65"/><circle cx="1000.4" cy="520.9" r="1.65"/><circle cx="1052.4" cy="519.6" r="1.65"/><circle cx="1082.4" cy="518.0" r="1.65"/><circle cx="1154.5" cy="518.0" r="1.65"/><circle cx="1183.3" cy="506.9" r="1.65"/><circle cx="1185.3" cy="506.9" r="1.65"/><circle cx="1184.2" cy="510.5" r="1.65"/><circle cx="1211.8" cy="521.8" r="1.65"/><circle cx="1223.0" cy="516.3" r="1.65"/><circle cx="1223.0" cy="519.0" r="1.65"/><circle cx="1223.0" cy="521.8" r="1.65"/><circle cx="1209.1" cy="607.3" r="1.65"/><circle cx="1208.1" cy="657.1" r="1.65"/><circle cx="1229.2" cy="564.4" r="1.65"/><circle cx="1237.3" cy="576.2" r="1.65"/><circle cx="1243.3" cy="633.2" r="1.65"/><circle cx="1262.4" cy="605.6" r="1.65"/><circle cx="1274.3" cy="531.9" r="1.65"/><circle cx="1273.2" cy="535.0" r="1.65"/><circle cx="1286.1" cy="533.6" r="1.65"/><circle cx="1283.2" cy="609.0" r="1.65"/><circle cx="1299.3" cy="600.4" r="1.65"/></g><path d="M160.5 496.5V497.38M160.5 506.38V507.62M161.5 482.5V484.5M161.5 486.88V508.62M162.5 476.75V508.62M163.5 475.88V508.38M164.5 474.38V507.88M165.5 469V470.88M165.5 473.12V500.62M166.5 466.62V499.88M167.5 460V463M167.5 466.38V492.38M168.5 459.88V463.25M168.5 466.5V493.12M169.5 460.12V462.88M169.5 465V493.25M169.5 495.5V498.38M170.5 464.5V498.62M171.5 464.62V498.62M172.5 465.5V500M172.5 503.12V504.5M173.5 468.62V508.75M173.5 515.75V517.25M174.5 478V480.88M174.5 483.12V511.62M174.5 514.88V518.12M175.5 484.12V518.25M176.5 486.62V517.62M177.5 485.75V514.5M178.5 481.12V514.38M179.5 477.38V513.38M180.5 472.25V508.12M181.5 471.38V506.12M182.5 467.75V496.75M182.5 499.25V501.38M183.5 464.25V494.88M184.5 463.88V493.62M185.5 464V497.12M186.5 466.25V468.75M186.5 471.88V500.38M187.5 473.62V502M187.5 504.5V505.75M188.5 476.75V506.75M189.5 477.5V508.12M190.5 480.25V508.25M191.5 476.88V508.75M192.5 476.62V508.88M193.5 474.5V508.25M194.5 470.5V504.12M195.5 466.88V502M196.5 466.38V497M197.5 465.12V494.38M198.5 464.38V494.38M199.5 464.25V497.12M200.5 464.88V500.25M201.5 470.62V501.25M202.5 474.5V504M203.5 475.75V504.12M204.5 480.5V506.62M205.5 480.5V508M206.5 481.12V508.12M207.5 477.25V507.75M208.5 476.62V506.5M209.5 476.62V504.38M210.5 470.5V500.25M211.5 465.5V466M211.5 468.38V499.38M212.5 464.25V498.75M213.5 464V496.38M214.5 464.25V498.62M215.5 464.88V467M215.5 471.25V502.38M216.5 471.25V503M217.5 471.88V508.12M218.5 474.5V509.75M219.5 478.88V509.88M220.5 477.88V509.62M221.5 477.12V508.5M222.5 471.38V472.5M222.5 476.88V507.12M223.5 470.38V502.5M224.5 467V502.25M225.5 465.12V497.25M226.5 463.25V493.25M227.5 462.12V492.25M228.5 462V495.25M229.5 462.38V498.88M230.5 469.75V503.88M231.5 471.12V507M232.5 476.38V512M233.5 481.75V512.25M234.5 480V512.12M235.5 474.25V476.88M235.5 479.62V509M236.5 473.88V508.75M237.5 472.38V504.88M238.5 470.75V502.12M239.5 470.25V494.75M239.5 498.25V498.88M240.5 469.5V498.5M241.5 468.88V499.12M242.5 468.88V499.12M243.5 469.62V498.25M244.5 470V500.62M245.5 470V500.88M246.5 470.5V501.5M246.5 503.75V506.25M246.5 511.88V512.75M247.5 475.38V508.12M247.5 510.38V515M248.5 480.38V515.62M249.5 486.25V515.62M250.5 481.88V514.88M251.5 475.12V509.25M251.5 511.5V513M252.5 468.5V508.88M253.5 467.88V505.62M254.5 467V500.12M255.5 466.75V497.88M256.5 466.12V498.62M257.5 465.12V501.12M258.5 465.12V502.38M258.5 506V508.12M259.5 465.62V503M259.5 505.38V508.75M260.5 470.75V477.75M260.5 481.38V509.12M261.5 482.88V510.38M262.5 483.5V512.88M263.5 483.38V513.25M264.5 481.25V513.25M265.5 476.38V513.12M266.5 474V507.5M266.5 511.25V511.88M267.5 463.62V470.38M267.5 473.75V504.25M268.5 463.25V498.5M269.5 463.38V496.5M270.5 464.5V465.5M270.5 468V496.25M271.5 472.62V496.12M272.5 473.5V505.12M273.5 474.12V506.38M274.5 476.62V510.62M275.5 476.75V511.12M276.5 477.75V479M276.5 483.62V511.12M277.5 484V487.38M277.5 489.75V510.75M278.5 483.25V509.62M279.5 478V509.12M280.5 470V470.88M280.5 475.75V506.75M281.5 468.88V505.88M282.5 463.5V465.62M282.5 468.75V502.12M283.5 462.88V499.5M284.5 462.88V495.62M285.5 463.62V494.12M286.5 464.75V493M287.5 467V496.12M287.5 499.38V500.12M288.5 467.12V505.5M289.5 468.12V469.38M289.5 473.25V506M290.5 473.12V506M291.5 473.38V506.25M292.5 477.62V506M293.5 477.88V503.88M294.5 477.12V502.5M295.5 471.25V501.62M296.5 470.5V500.75M297.5 465.75V467.62M297.5 470.25V491M297.5 496.62V499.5M298.5 465V496.38M299.5 465V496.5M300.5 465.62V499.25M301.5 466.75V500.38M302.5 467.25V500.5M303.5 469.38V470.38M303.5 475.12V506M304.5 477.62V512M305.5 479.25V512.12M306.5 482V511.75M307.5 482.75V483.62M307.5 485.88V511.38M308.5 479.38V511.12M309.5 470.62V507.5M310.5 468.75V507M311.5 468.12V502.25M312.5 466.12V498M313.5 465.88V497.5M314.5 466.12V500.5M315.5 466.5V503.75M316.5 467.38V504.62M317.5 474.12V509.62M318.5 477.12V510.5M319.5 480.38V518.38M320.5 484.5V518.75M321.5 488.25V518.62M322.5 481.38V483.25M322.5 487.25V514.75M322.5 517V517.12M323.5 480.62V513.88M324.5 471.88V476.12M324.5 480.62V511.5M325.5 471V508.25M326.5 468.88V505.5M327.5 468.25V500.25M328.5 468V497.38M329.5 468.12V495.12M330.5 469.25V496.12M330.5 501.12V502.5M331.5 470.88V498.12M331.5 500.25V503.38M332.5 472.38V504.5M332.5 507V508.75M333.5 472.88V477.25M333.5 480.12V509.5M334.5 474.88V476.38M334.5 482.88V509.5M334.5 512V514.62M335.5 484.12V509M335.5 511.62V515M336.5 481.5V509.38M336.5 511.75V514.88M337.5 478.25V510.75M337.5 513V513.5M338.5 478V511.12M339.5 470.62V471.38M339.5 477V511M340.5 469.38V472.5M340.5 475V505.75M340.5 509.12V509.88M341.5 469.25V505.62M342.5 469.75V499.62M342.5 503.38V504.62M343.5 470.38V497.5M344.5 470.62V502M345.5 471.25V503.88M346.5 476.38V507.25M347.5 480.25V508M348.5 481V510.5M349.5 481.38V510.62M350.5 485.12V510.88M351.5 480.88V512.25M352.5 480.62V512.38M353.5 474.75V506.62M353.5 509.38V512M354.5 471.25V506.38M355.5 470V502.75M356.5 464V465.75M356.5 469V497.38M356.5 499.75V502.25M357.5 463.25V466.5M357.5 468.62V496.88M358.5 463.12V466.5M358.5 468.75V496.12M359.5 463.75V466M359.5 468.38V499.62M360.5 468.38V504.12M361.5 469.62V470.5M361.5 476.75V507.38M362.5 477.62V508.38M363.5 478V509.12M364.5 478.5V509.25M365.5 477.38V508.62M366.5 476.75V507.88M367.5 473.5V501.75M367.5 504.62V507.75M368.5 473.25V501.5M368.5 505.38V507M369.5 468V470.88M369.5 473.25V500.88M370.5 467.75V502.62M371.5 468V503M372.5 472.12V502.88M373.5 472V498M373.5 500.88V501.62M374.5 472.62V500.25M375.5 475.62V503.5M376.5 475.62V511.25M377.5 476.25V478.25M377.5 481.25V511.62M378.5 482.25V511.62M379.5 485V512.12M380.5 483.38V512.12M381.5 483.12V511.25M382.5 482.38V509M383.5 480.75V508.75M384.5 475.12V506.62M385.5 474.75V504.5M386.5 474.88V504.25M387.5 475V501.62M388.5 475.75V505.12M389.5 476.88V509.88M390.5 480V510.5M391.5 481.5V510.62M392.5 482.5V515.88M393.5 481V516.5M394.5 479.12V516.5M395.5 478.12V515.88M396.5 474.5V504.62M397.5 471V499.5M397.5 501.62V502.12M398.5 469.5V498.75M399.5 469V497.88M399.5 500V501.75M400.5 468.75V502.5M401.5 469V502.62M402.5 471.12V503.25M403.5 471.38V503.38M404.5 475.75V505.5M405.5 476V505.88M406.5 476.25V506.88M407.5 480.25V507.12M408.5 480.62V506.75M409.5 479.88V506.12M410.5 475.75V505.75M411.5 475.5V505.62M412.5 475.62V506.5M413.5 474.25V506.62M414.5 474V506.38M415.5 474.25V503.88M416.5 477.12V504.5M417.5 472.12V504.5M418.5 471.88V503.75M419.5 472.12V504.12M420.5 474.75V507.88M421.5 481V508.5M422.5 482V511.5M423.5 484.62V511.75M424.5 480.38V511.5M425.5 475.88V506.75M426.5 471.75V505.5M427.5 471.25V502.75M428.5 470V497.38M428.5 499.5V499.88M429.5 469.5V497.88M430.5 469.62V501.25M431.5 470.5V507.25M432.5 472.38V507.75M433.5 475.5V507.75M434.5 480.25V509.5M435.5 480.5V509.75M436.5 486.25V509.75M437.5 485.38V509.38M438.5 481.12V509.12M439.5 479.5V507M440.5 474.88V506M441.5 471.88V504.62M442.5 471.25V503.5M443.5 471.25V501.38M444.5 472V504.88M445.5 475.38V505.5M446.5 478.62V505.5M447.5 478.88V505.5M448.5 479.75V505.5M449.5 478V504.75M450.5 477.75V505.88M451.5 478V507M452.5 481.25V507.12M453.5 481V506.75M454.5 472.88V507.25M455.5 472.75V507.38M456.5 473V501.12M456.5 504.38V507.12M457.5 471.75V500M458.5 469.5V495.25M458.5 497.62V499.25M459.5 469.38V501.88M460.5 469.75V502.38M461.5 471.12V502.38M462.5 474.38V502.12M462.5 504.88V505.25M463.5 475.38V506.62M464.5 476.12V507.38M465.5 476.75V478.88M465.5 481.38V507.75M466.5 480.62V508M467.5 476.75V508.38M468.5 474.12V508.25M469.5 473.62V504.88M470.5 470.38V500.75M471.5 469.75V500.25M472.5 469.75V498.75M473.5 469.88V499.75M474.5 470V500.62M474.5 505.75V507.75M475.5 471.12V472.12M475.5 474.88V508.38M476.5 477.62V508.38M477.5 480.12V509.25M478.5 479.88V509.75M479.5 480.12V510M480.5 484V512M481.5 482.88V512.25M482.5 482.25V511.88M483.5 478.38V509M484.5 478.12V506.12M485.5 478.5V506M486.5 478.75V504.88M487.5 475.25V504.25M488.5 474.5V504.88M489.5 474.12V504.88M490.5 474.25V504.38M491.5 475.5V507.5M492.5 477V508.75M493.5 478.38V508.88M493.5 523.25V524.88M493.5 529V537.38M493.5 543.88V545M494.5 480.62V481.62M494.5 483.88V508.5M494.5 522.38V547.88M495.5 484.38V494.62M495.5 496.88V506.88M495.5 522.25V548.12M496.5 485.38V486.5M496.5 502.25V504.62M496.5 520.12V547.88M497.5 519.5V544.75M498.5 517.25V544.75M499.5 516.75V544.38M500.5 516.88V543.25M501.5 518V546.12M502.5 518V546.75M503.5 518V546.75M504.5 518.25V548.38M505.5 520V549.12M506.5 520.75V549.88M507.5 521.62V549.88M508.5 521.75V549.75M509.5 523.12V549.5M510.5 522.25V549M511.5 522V548M512.5 521.25V548.12M513.5 521.12V548.75M514.5 518.12V549.5M515.5 517.5V549.62M516.5 516V549.12M517.5 515.62V544.88M518.5 515.75V543.88M519.5 516.88V517.75M519.5 520.75V547.75M520.5 520.38V548M521.5 520.25V547.62M522.5 519.25V544.5M523.5 518.75V547M524.5 518.75V547.25M525.5 519.62V549.88M526.5 520.38V550.25M527.5 521.88V551.12M528.5 522V551.25M529.5 522.25V550.75M530.5 522.38V549M531.5 523.12V548.38M532.5 524.25V548.5M533.5 524.12V548.5M534.5 524.12V551.5M535.5 525V551.75M536.5 524.38V551.5M537.5 524.12V551.5M538.5 524V552.12M539.5 523.88V552.12M540.5 521.38V547.25M540.5 549.5V551.5M541.5 521.12V548.5M542.5 521.25V549.88M543.5 525.25V551.12M544.5 524.75V551.5M545.5 524.12V551.38M546.5 521.38V551.12M547.5 520.38V551M548.5 519.38V549M549.5 519.12V545.62M550.5 519.38V546.62M551.5 520V546.75M552.5 520V546.38M553.5 519.12V545.12M554.5 519.12V547.75M555.5 519.62V548.12M556.5 522.5V551.38M557.5 523.62V551.75M558.5 520.38V551.62M559.5 519.5V545.62M559.5 549.62V550.5M560.5 519.38V545.5M561.5 516.88V544.88M562.5 516.62V546.62M563.5 516.75V547.12M564.5 519.62V547M565.5 519.5V546.38M566.5 519.75V546.62M567.5 523.75V546.62M568.5 523.12V548.88M569.5 522.25V549.25M570.5 519.88V549M571.5 519.62V545M572.5 513.5V545.25M573.5 512.88V545M574.5 512.88V543.75M575.5 513.5V546M575.5 548.12V549.38M576.5 516.25V550.5M577.5 521.38V553.5M578.5 521.88V554.5M579.5 525.5V554.62M580.5 522.75V554.12M581.5 521.62V548.38M581.5 550.75V553M582.5 521.5V547.25M583.5 521.88V552M584.5 524.75V552.25M585.5 524.75V552M586.5 524V549.62M587.5 522.38V546.75M588.5 520.5V546.25M589.5 515.25V545.38M590.5 514.5V544.75M591.5 514.38V544.5M592.5 515V545.5M593.5 520.75V546.12M593.5 548.75V550.88M594.5 521.88V551.88M595.5 523V552.25M596.5 521.88V552.62M597.5 521.62V552.75M598.5 521.88V552.38M599.5 521.88V550.25M600.5 521V550.5M601.5 520.62V550.38M602.5 520.12V547.5M603.5 520.12V548.62M604.5 520.88V548.75M605.5 523V548.5M606.5 523.12V548.25M607.5 523.25V550.75M608.5 523.88V551.38M609.5 524.75V551.25M610.5 522.62V550.62M611.5 522.12V549.5M612.5 522.25V545.12M613.5 522.38V544.88M614.5 521V545M615.5 520.75V545.25M616.5 520.88V549.12M617.5 520.88V550M618.5 521.88V551.5M619.5 524.75V551.75M620.5 525.25V551.5M621.5 526.38V551.5M622.5 522.75V551.75M623.5 522.5V551.5M624.5 522.38V548.75M625.5 522.25V548.75M626.5 522.5V549.25M627.5 519.25V549.12M628.5 519V548.12M629.5 519.25V547.75M630.5 521.62V547.62M631.5 521.5V546.25M632.5 519.5V545.25M633.5 519.38V545.75M634.5 519.75V546.5M635.5 520.88V550.12M636.5 523.25V550.88M637.5 524.62V550.88M638.5 525V550.25M639.5 525.62V549.5M640.5 522.38V523.25M640.5 525.62V549.25M641.5 520V549M642.5 519.75V548.38M643.5 517.38V544.38M644.5 517.25V545.5M645.5 517.62V545.88M646.5 518.25V545.75M647.5 519V548.38M648.5 519.88V548.5M649.5 520V548.25M650.5 520V547.38M651.5 520.75V547.25M652.5 520.38V546.62M653.5 520.25V546M654.5 519V545.62M655.5 517.75V545.75M656.5 517.62V545.75M657.5 516.38V545M658.5 515.75V544.75M659.5 515.75V544.38M660.5 516.38V544.88M661.5 518.88V545.75M662.5 518V545.75M663.5 517.88V545.88M664.5 518.38V547.5M665.5 520.75V547.75M666.5 522.38V548.88M667.5 520.88V549.62M668.5 520.75V552.75M669.5 521V552.88M670.5 522.25V552.62M671.5 522.5V550.88M672.5 521.88V550.75M673.5 520.12V549.5M674.5 518.75V546.62M675.5 518.12V544.75M676.5 518.12V544.75M677.5 518.75V545.62M678.5 520.75V546.88M679.5 523.25V547.25M680.5 521.88V547.12M681.5 521.75V548.75M682.5 522V549.25M683.5 522.38V551.62M684.5 522.62V551.88M685.5 525.75V551.88M686.5 523V551.75M687.5 522.38V550M688.5 522.38V550.38M689.5 522.62V550.75M690.5 521.25V550.75M691.5 520.12V550.12M692.5 519.75V549.62M693.5 520V547.12M694.5 520.12V547M695.5 519.62V546.25M696.5 519.38V546.38M697.5 519.75V547.38M698.5 520.75V550.38M699.5 521V550.75M700.5 522.5V550.62M701.5 522.38V549.5M702.5 520V547.25M703.5 516.38V544.38M704.5 515.88V543.75M705.5 515.88V543.75M706.5 512.25V543.62M707.5 512V546.25M708.5 512.25V547M709.5 516.12V547.75M710.5 521V549M711.5 520.62V549.12M712.5 520.62V548.75M713.5 520.25V546.38M714.5 520.38V546.62M715.5 519.5V546.5M716.5 519.25V546.25M717.5 518.62V544.75M718.5 518.5V544.38M719.5 518.75V545.25M720.5 520.5V550M721.5 522.38V550.25M722.5 522.25V550.12M723.5 522.38V548.88M724.5 523.75V549M725.5 519.12V520.12M725.5 523.62V548.75M726.5 518V521.25M726.5 523.5V549.75M727.5 517.88V550M728.5 518.38V549.75M729.5 520.62V549.38M730.5 521.62V522.62M730.5 524.88V548.75M731.5 522.75V548.75M732.5 518.12V548.38M733.5 516.75V547.38M734.5 515.75V547M735.5 515.25V545.12M736.5 515.38V545M737.5 516.5V545.38M738.5 519.88V546.62M739.5 519.88V546.75M740.5 520V548.12M741.5 521.12V548.75M742.5 524.5V549.38M743.5 524V549.5M744.5 523.25V549.25M745.5 522.88V546.38M746.5 521.12V546.38M747.5 520.75V546.12M748.5 520.12V544.62M749.5 519.5V545.38M750.5 519.5V546.25M751.5 519.88V547.62M752.5 521V551.88M753.5 522.12V552M754.5 523.5V551.62M755.5 523.38V548.12M756.5 521.38V547.75M757.5 521.12V547.88M758.5 521.38V551.75M759.5 525.12V552.12M760.5 524.62V552.62M761.5 524.25V552.75M762.5 523.88V552.38M763.5 524.12V549.25M764.5 519.75V549.25M765.5 518.25V548.38M766.5 517.62V546.5M767.5 517.62V546M768.5 518.38V549.88M769.5 522V550.25M770.5 523.25V552.62M771.5 520.88V552.88M772.5 520.5V547M772.5 549.62V552.62M773.5 518.25V545.5M774.5 517.12V545.5M775.5 515.88V544.75M776.5 513.88V542M777.5 513.12V542M778.5 513V543.25M779.5 513.62V543.75M780.5 518.75V548.12M781.5 520.38V549.12M782.5 523.25V549.25M783.5 522V548.75M784.5 519.25V547.75M785.5 518.75V545.25M786.5 518.88V544.75M787.5 518.5V544.5M788.5 518.12V544.5M789.5 518.25V544.25M789.5 546.75V549.75M790.5 519.5V520M790.5 522.25V550M791.5 522.25V549.62M792.5 522.38V549.25M793.5 523V549.12M794.5 521.62V548.25M795.5 520.38V546.62M796.5 518.62V545.5M797.5 518.12V543.12M798.5 518.25V548M799.5 519.12V548.62M800.5 521.5V550.88M801.5 525.12V551.38M802.5 522.25V551.38M803.5 518.75V550.5M804.5 514.62V548.88M805.5 514.5V543.62M806.5 514.75V540.25M807.5 514.38V539.88M808.5 514.38V542.12M809.5 515.12V546.38M810.5 516.38V548.5M811.5 517.38V518.75M811.5 522.25V549.38M812.5 525.5V552.38M813.5 524.75V525.5M813.5 528.5V553.5M814.5 523.62V553.62M815.5 522.25V553.38M816.5 521.75V550.75M817.5 521.5V549.25M818.5 519.75V550M819.5 519.62V550.62M820.5 519.75V550.62M821.5 519.75V549.88M822.5 520.25V548M823.5 521.38V551.88M824.5 525.88V552.12M825.5 524.75V551.88M826.5 524V551.75M827.5 524V553.12M828.5 524.25V553.25M829.5 523.75V552.88M830.5 523.88V550.5M831.5 519.25V549.88M832.5 519V548.38M833.5 518.25V545.88M834.5 518V544.25M835.5 513.38V515.38M835.5 518.12V543M836.5 512.62V541.62M837.5 512.62V542M838.5 513.38V544.12M839.5 515V545.88M840.5 517.75V546.12M841.5 519.25V547.5M842.5 519.88V547.88M843.5 519.88V547.75M844.5 519.62V547M845.5 516.62V546.5M846.5 516.25V544M847.5 515.38V543.75M848.5 514.88V538.88M849.5 515V540.25M850.5 515.5V541.12M851.5 515.5V542.38M852.5 515.75V547.75M853.5 521V549M854.5 521.88V550.12M855.5 524.38V551.38M856.5 525V551.5M857.5 520.5V551.12M858.5 520.38V549M859.5 520V546.38M860.5 520.12V545.62M861.5 520.88V546.12M862.5 521.75V546.25M863.5 519.12V546.62M864.5 515.5V546.88M865.5 514.88V546.62M866.5 514.88V543M867.5 515.5V542.88M868.5 518V542.62M869.5 518.38V544.38M870.5 518.62V544.62M871.5 518.38V550.5M872.5 518.25V551.5M873.5 518.5V521.38M873.5 524.25V551.62M874.5 524.62V551.12M875.5 524.62V551.12M876.5 524.88V552.25M877.5 524.62V552.88M878.5 520.38V552.88M879.5 520.12V552.12M880.5 520.38V552.25M881.5 523.25V555.25M882.5 528.5V555.5M883.5 528V558M884.5 527.75V560.12M885.5 528V531M885.5 533.5V560.88M886.5 533.88V561.5M887.5 528.12V530.38M887.5 533.12V562M888.5 527.5V561.88M889.5 527.62V560.75M890.5 528.38V530M890.5 532.25V555.12M891.5 532.88V555.38M892.5 530.12V556.38M893.5 529.5V556.5M894.5 529.62V556.12M895.5 530.25V556.12M896.5 530.12V555.88M897.5 530.5V556.88M898.5 531V557M899.5 532.25V559M900.5 532.62V560M901.5 532V560.25M902.5 532V560.12M903.5 532.62V559.25M904.5 532V558.62M905.5 530.5V555.12M906.5 528.75V555.75M907.5 528.5V555.88M908.5 527.88V555.62M909.5 527.62V556M910.5 527.75V559M911.5 531.5V559.75M912.5 534.62V561.62M913.5 534V562.62M914.5 533.88V562.75M915.5 534V562.38M916.5 532.88V559.25M917.5 529V559.12M918.5 526V557.88M919.5 523.25V555.88M920.5 522V553M921.5 521.88V549.25M922.5 522.25V550.12M923.5 526.12V553.12M924.5 526.62V554M925.5 528.38V555.38M926.5 529V555.75M927.5 531.5V556.75M928.5 531.88V557.25M929.5 532.88V557.88M930.5 529.5V558M931.5 528.25V557.38M932.5 528.12V555.5M933.5 528V554.12M934.5 527.12V553.12M935.5 526.88V553.12M936.5 527V553.25M937.5 528.12V552.88M938.5 528.62V552.75M939.5 528V552.38M940.5 527.88V558.75M941.5 528.5V559.38M942.5 530.75V560.62M943.5 532.25V560.88M944.5 530.88V560.75M945.5 530.62V559.75M946.5 529.25V559M947.5 524.62V558.88M948.5 523.25V558.75M949.5 519.62V550.38M949.5 552.75V553.75M950.5 518.38V549.88M951.5 518.12V548M952.5 518.38V552.38M953.5 523.38V553.12M954.5 524.75V525.12M954.5 527.38V553.62M954.5 556.38V558.5M955.5 531.38V559.12M956.5 532.38V559.12M957.5 535.38V558.38M958.5 531.5V557.62M959.5 531.12V557.12M960.5 529.12V556.75M961.5 528.75V555.88M962.5 526.38V555.5M963.5 524.12V554.62M964.5 523.5V553.88M965.5 523.5V553M966.5 524.25V553M967.5 526V554M968.5 526.62V554.75M969.5 528.38V556.62M970.5 529.38V556.88M971.5 531.75V556.75M972.5 532.12V556.12M973.5 532.88V556M974.5 532.38V555.5M975.5 530.75V555.62M976.5 526V555.38M977.5 525.12V553.5M978.5 521.88V551.12M979.5 521.12V549.38M980.5 521.12V549.12M981.5 521.5V552M982.5 522.5V552.62M983.5 525.88V552.62M984.5 526.88V554.5M985.5 529.88V555.38M986.5 530V555.5M987.5 527.75V555M988.5 520V553M989.5 519.5V551.12M990.5 519.62V548.38M991.5 520.62V548.25M992.5 522.75V548.38M993.5 522.5V548.38M994.5 522.88V549.62M995.5 525.38V550.62M996.5 526.88V553.25M997.5 527.5V554M998.5 527.62V554M999.5 527.75V553.75M1000.5 525.62V553.25M1001.5 525.38V552.38M1002.5 524.75V550M1003.5 524.5V550M1004.5 524.12V550.12M1005.5 523.12V550.88M1006.5 523V551.38M1007.5 520V551.5M1008.5 519.75V551M1009.5 520V546.75M1009.5 548.88V550M1010.5 519.62V546.12M1011.5 519.38V547.75M1012.5 519.75V551.12M1013.5 522.75V551.62M1014.5 525.38V551.62M1015.5 524.75V550.62M1016.5 524.12V550.5M1017.5 524.12V554M1018.5 524.5V554.5M1019.5 522.88V554.38M1020.5 521.88V553.25M1021.5 520.5V551M1022.5 519.88V550.75M1023.5 520V546.5M1024.5 520.75V546.75M1025.5 522.12V548.75M1026.5 522.12V553.12M1027.5 522.75V553.5M1028.5 525.12V553.25M1029.5 524.12V554.5M1030.5 523.25V555M1031.5 523.25V554.88M1032.5 523.75V554.5M1033.5 523.12V549.12M1033.5 551.25V554.38M1034.5 522.25V549.5M1034.5 552.5V553.12M1035.5 520.38V549.5M1036.5 520.25V550.25M1037.5 520.5V550.62M1038.5 523.62V550.5M1039.5 522.62V548.88M1040.5 521V550.88M1041.5 520.75V551.38M1042.5 520V551.25M1043.5 519.88V550M1044.5 520.38V548.75M1045.5 524.12V551M1046.5 524.75V551.88M1047.5 527.25V551.88M1048.5 527.12V552.25M1049.5 524V552M1050.5 523.75V550.5M1051.5 523.88V549.62M1052.5 525V551M1053.5 525.25V551.5M1054.5 524.88V551.5M1055.5 525V551M1056.5 525.25V551.12M1057.5 525.12V551.5M1058.5 525.5V551.62M1059.5 529V551.5M1060.5 529.12V550.88M1061.5 528.5V550.62M1062.5 523.38V549.38M1063.5 523.12V547.75M1064.5 523.25V548.5M1065.5 524.38V548.75M1066.5 524.25V548.5M1066.5 550.62V551M1067.5 524.25V552.38M1068.5 524.75V552.5M1069.5 526.38V553.12M1070.5 527.88V553.88M1071.5 527V553.88M1072.5 526.75V553.38M1073.5 526.38V550.88M1074.5 524.88V550.62M1075.5 524.5V555.12M1076.5 523.5V556.12M1077.5 523.12V556.25M1078.5 521.5V551.12M1078.5 553.25V555.75M1079.5 521V549.5M1080.5 521V552M1081.5 521.38V552.38M1082.5 522.12V552.25M1083.5 523.12V551.12M1084.5 522.62V548.75M1085.5 521.38V548.25M1086.5 521.25V549.62M1087.5 521.62V551.62M1088.5 525.25V552.12M1089.5 526.12V552.38M1090.5 528.38V552.12M1091.5 525.62V548.38M1092.5 523.12V548.38M1093.5 523V548.62M1094.5 523.12V548.5M1095.5 523.88V548.62M1096.5 524.25V549.12M1097.5 524.75V550M1098.5 524.88V551.5M1099.5 525.75V551.88M1100.5 526.75V551.88M1101.5 524.38V550.75M1102.5 523.5V549.88M1103.5 522.88V549.88M1104.5 522.88V549.75M1105.5 520.88V547.62M1106.5 520.5V547.75M1107.5 520.62V548.88M1108.5 521.75V549M1109.5 521.12V548.88M1110.5 520.88V548.25M1111.5 521.12V547.25M1112.5 521.88V547.75M1113.5 522.75V547.62M1114.5 523.88V549.12M1115.5 523.75V552.38M1116.5 523V553M1117.5 523.12V553M1118.5 523.75V525.75M1118.5 528.5V555.62M1119.5 528.88V555.75M1120.5 527.88V555.38M1121.5 524V554.12M1122.5 523.88V553.25M1123.5 523.5V553M1124.5 523.5V547.5M1125.5 524V550.38M1126.5 525.25V551M1127.5 524.88V551.12M1128.5 525V552M1129.5 526V552.12M1130.5 527.38V552.12M1131.5 526.38V553M1132.5 526.38V553.12M1133.5 525.12V552.62M1134.5 524.38V549.25M1135.5 523.75V549.88M1136.5 523.75V550M1137.5 524.62V551.12M1138.5 525.88V551.25M1139.5 524.12V550.88M1140.5 520.88V546.75M1141.5 519.62V546.25M1142.5 519.5V546.12M1143.5 520V549.62M1144.5 521.75V549.75M1145.5 521.5V549.5M1146.5 521.62V548.62M1147.5 522.25V551.62M1148.5 523.12V552.25M1149.5 525.25V552.25M1150.5 523.62V551.62M1151.5 523.38V550.12M1152.5 523.5V551M1153.5 524.88V551M1154.5 524.88V550.5M1155.5 524.88V551.62M1156.5 523.88V552.12M1157.5 523.75V552M1158.5 523.5V551.25M1159.5 522.5V547.88M1160.5 522.5V547.75M1161.5 522.62V549.12M1162.5 522.5V549.62M1163.5 519.38V549.62M1164.5 517.12V548.75M1165.5 510.5V546.75M1166.5 510.38V540.25M1167.5 510.62V540M1168.5 512.5V540.88M1169.5 512.75V544.25M1170.5 515.62V548.62M1171.5 519.62V549.25M1172.5 518.75V549.25M1173.5 517.88V548.5M1174.5 517.75V548.12M1175.5 518.38V548.25M1176.5 519.38V547.88M1177.5 517.88V544.5M1178.5 517.38V543.88M1179.5 516.62V545.12M1180.5 516V545.25M1181.5 513.88V545M1182.5 510.75V540.75M1183.5 510.38V540.62M1184.5 510.62V542.38M1185.5 510.5V542.5M1186.5 511V542.38M1187.5 512.62V539.88M1188.5 513V544.88M1189.5 513V545.5M1190.5 513.12V545.5M1191.5 517.38V544.88M1192.5 518.5V544.75M1193.5 516.75V544.25M1194.5 515.62V542.88M1195.5 513.5V540.62M1196.5 511.12V541M1197.5 510.88V541.88M1198.5 511V542.62M1199.5 512.38V543.88M1200.5 518.25V545M1201.5 520.38V550.88M1202.5 520.38V551M1203.5 521.38V550.62M1204.5 518.75V546.12M1205.5 518.5V545.75M1206.5 518.62V548.5M1207.5 519.88V549.38M1208.5 519.88V549.38M1209.5 520.38V553.5M1210.5 521.75V554.38M1211.5 523.5V554.38M1212.5 520.38V522.12M1212.5 524.5V553.88M1213.5 519.62V551.62M1214.5 519.62V552M1215.5 520.12V551.88M1216.5 524.38V553.38M1217.5 524.62V554.25M1218.5 526.12V554.25M1219.5 527V554.12M1220.5 527.75V554.88M1220.5 558V560.88M1221.5 527.75V561.12M1222.5 528.25V561M1223.5 527.25V557.75M1224.5 525.75V556.75M1225.5 525.25V552.88M1226.5 524.75V551.88M1227.5 524.62V554M1228.5 524.88V556.12M1229.5 525.25V556.88M1230.5 528.75V557.5M1231.5 529.62V531.25M1231.5 533.38V559.38M1232.5 532.5V560.38M1233.5 532.38V560.88M1234.5 530.25V560.88M1235.5 530V560M1236.5 525.88V558.12M1237.5 523.62V553.88M1238.5 523.38V554.38M1239.5 523.62V555M1240.5 526.75V555M1241.5 528.75V558.12M1242.5 532.62V559M1243.5 533.5V562.12M1244.5 532.5V562.62M1245.5 532.25V562.5M1246.5 532.62V561.62M1247.5 535.62V559.88M1248.5 533.88V564.75M1249.5 533.25V565M1250.5 533.38V564.75M1251.5 530.75V562.62M1252.5 530.25V561.25M1253.5 530.38V560.62M1254.5 530.75V557.12M1255.5 528.38V556.88M1256.5 527.62V556.88M1257.5 527.5V562.88M1258.5 528V532M1258.5 534.75V565.38M1259.5 534.75V569.62M1260.5 535.5V570.25M1261.5 539.75V570.38M1261.5 572.62V575.62M1262.5 545.5V575.75M1263.5 544.75V575.5M1264.5 539.75V570.12M1265.5 539V568.75M1266.5 539V567.62M1267.5 539.5V567.38M1268.5 539.88V569.88M1269.5 540.12V575M1270.5 545.5V576M1271.5 547V579.38M1272.5 548V579.88M1273.5 550.62V579.75M1274.5 544.25V547.88M1274.5 550.5V578.88M1275.5 531.25V533.12M1275.5 539.62V577.12M1276.5 530.5V533.88M1276.5 538.25V567.75M1276.5 574.12V575.12M1277.5 530.5V533.88M1277.5 538.12V565.38M1278.5 531.12V533.25M1278.5 538.5V565.62M1279.5 539.12V566.62M1279.5 568.75V571.88M1280.5 542.88V573M1281.5 546.62V576.12M1282.5 546.5V576.5M1283.5 545.12V576.38M1284.5 534.38V535.88M1284.5 539.88V571M1284.5 574.25V575.38M1285.5 533.5V569M1286.5 533.38V566.5M1287.5 533.88V565.5M1288.5 537.75V568.12M1289.5 544V571.88M1290.5 545.62V575.62M1291.5 546.38V576.12M1292.5 546.38V576M1293.5 543.25V575M1294.5 533.75V536.25M1294.5 539.88V574.12M1295.5 531.5V569.88M1296.5 530.62V565.88M1297.5 530.5V562.75M1298.5 531V569.38M1299.5 532.62V574.5M1300.5 540.12V574.75M1300.5 576.88V579.5M1301.5 544.62V579.88M1302.5 547V572.88M1302.5 576.62V579.75M1303.5 549.88V572.62M1303.5 577.62V578.75M1304.5 554V559.38M1304.5 567.38V571" stroke="#000" stroke-width="1" fill="none"/><g fill="#000"><circle cx="1231.4" cy="524.7" r="1.7"/><circle cx="1259.4" cy="572.8" r="1.7"/><circle cx="300.5" cy="504.5" r="1.7"/><circle cx="307.5" cy="512.2" r="1.7"/><circle cx="373.0" cy="462.4" r="1.7"/><circle cx="424.0" cy="465.0" r="1.7"/><circle cx="455.5" cy="467.5" r="1.7"/><circle cx="475.8" cy="466.7" r="1.7"/><circle cx="395.0" cy="470.1" r="1.7"/><circle cx="405.0" cy="471.0" r="1.7"/></g><g fill="#ffa500"><path d="M296.4 666.3l-2.85-5.7h5.7z"/><path d="M453.2 666.3l-2.85-5.7h5.7z"/><path d="M470.3 666.3l-2.85-5.7h5.7z"/><path d="M623.5 666.3l-2.85-5.7h5.7z"/><path d="M697.3 666.3l-2.85-5.7h5.7z"/><path d="M817.5 666.3l-2.85-5.7h5.7z"/><path d="M881.3 666.3l-2.85-5.7h5.7z"/><path d="M937.3 666.3l-2.85-5.7h5.7z"/><path d="M1161.4 666.3l-2.85-5.7h5.7z"/></g><rect x="162.0" y="479.7" width="333.0" height="19.6" fill="#ffa500" fill-opacity="0.1"/><rect x="495.0" y="527.8" width="152.0" height="13.6" fill="#ffa500" fill-opacity="0.1"/><rect x="647.0" y="528.6" width="226.0" height="13.6" fill="#ffa500" fill-opacity="0.1"/><rect x="873.0" y="532.8" width="292.0" height="13.6" fill="#ffa500" fill-opacity="0.1"/><rect x="1165.0" y="522.8" width="46.0" height="13.2" fill="#ffa500" fill-opacity="0.1"/><rect x="1211.0" y="536.4" width="46.0" height="13.8" fill="#ffa500" fill-opacity="0.1"/><rect x="1257.0" y="548.1" width="46.0" height="17.0" fill="#ffa500" fill-opacity="0.1"/><path d="M160.6 489.5H496.4" stroke="#ffa500" stroke-width="2.78"/><path d="M493.6 534.6H648.4" stroke="#ffa500" stroke-width="2.78"/><path d="M645.6 535.4H874.4" stroke="#ffa500" stroke-width="2.78"/><path d="M871.6 539.6H1166.4" stroke="#ffa500" stroke-width="2.78"/><path d="M1163.6 529.4H1212.4" stroke="#ffa500" stroke-width="2.78"/><path d="M1209.6 543.3H1258.4" stroke="#ffa500" stroke-width="2.78"/><path d="M1255.6 556.6H1304.4" stroke="#ffa500" stroke-width="2.78"/><rect x="105.5" y="498.8" width="1255.5" height="48.7" fill="#f00" fill-opacity="0.1"/><path d="M105.5 522.8H1361" stroke="#f00" stroke-width="2.08"/><g stroke="#800080" stroke-width="2.08" stroke-dasharray="2.08 3.44" fill="none"><path d="M162.0 665.88V380.5"/><path d="M495.0 665.88V380.5"/><path d="M647.0 665.88V380.5"/><path d="M873.0 665.88V380.5"/><path d="M1165.0 665.88V380.5"/><path d="M1211.0 665.88V380.5"/><path d="M1257.0 665.88V380.5"/><path d="M1303.0 665.88V380.5"/></g></g><rect x="105.5" y="380.5" width="1380.0" height="286.0" fill="none" stroke="#000" stroke-width="1.1"/><g stroke="#000" stroke-width="1.1"><path d="M162.5 666.5v4.9"/><path d="M459.5 666.5v4.9"/><path d="M756.5 666.5v4.9"/><path d="M1052.5 666.5v4.9"/><path d="M1349.5 666.5v4.9"/></g><g text-anchor="middle"><text x="163.3" y="686.9">0</text><text x="458.2" y="686.9">5000</text><text x="755.9" y="686.9">10000</text><text x="1052.8" y="686.9">15000</text><text x="1349.2" y="686.9">20000</text></g><g stroke="#000" stroke-width="1.1"><path d="M105.5 634.5h-4.9"/><path d="M105.5 594.5h-4.9"/><path d="M105.5 554.5h-4.9"/><path d="M105.5 514.5h-4.9"/><path d="M105.5 474.5h-4.9"/><path d="M105.5 434.5h-4.9"/><path d="M105.5 394.5h-4.9"/></g><g text-anchor="end"><text x="95.2" y="639.7">9.5</text><text x="95.2" y="599.7">9.6</text><text x="95.2" y="559.7">9.7</text><text x="95.2" y="519.7">9.8</text><text x="95.2" y="479.7">9.9</text><text x="95.2" y="439.7">10.0</text><text x="95.2" y="399.7">10.1</text></g><text x="795.0" y="371.8" font-size="16.67" text-anchor="middle">Magnitude Estimates</text><g text-anchor="middle"><text x="328.1" y="656.6">60771</text><text x="570.6" y="636.7">57923</text><text x="759.6" y="616.8">57917</text><text x="1018.6" y="656.6">57916</text><text x="1187.6" y="636.7">52028</text><text x="1233.6" y="616.8">50805</text><text x="1279.6" y="656.6">50798</text></g><rect x="1365.5" y="387.5" width="113.0" height="48.0" rx="2.8" fill="#fff" fill-opacity="0.8" stroke="#ccc" stroke-width="1.1"/><path d="M1369 399.3H1399.5" stroke="#ffa500" stroke-width="2.78"/><path d="M1369 421.9H1399" stroke="#f00" stroke-width="2.08"/><text x="1410" y="404">mag<tspan font-size="9.72" font-style="oblique" dy="2">OBSID</tspan></text><text x="1409" y="426.5">mag</text><rect x="1348.5" y="613.5" width="130.0" height="45.5" rx="2.8" fill="#fff" fill-opacity="0.8" stroke="#ccc" stroke-width="1.1"/><circle cx="1367.4" cy="626.4" r="1.65" fill="#ffa500"/><circle cx="1367.4" cy="647.5" r="1.65" fill="#000"/><text x="1393.2" y="629.9">Highlighted</text><text x="1393" y="650.9">OK</text><g stroke="#b0b0b0" stroke-width="1" stroke-dasharray="1.0 1.94" fill="none"><path d="M105.5 921.5H1485.5"/><path d="M105.5 889.5H1485.5"/><path d="M105.5 856.5H1485.5"/><path d="M105.5 823.5H1485.5"/><path d="M105.5 791.5H1485.5"/><path d="M105.5 758.5H1485.5"/><path d="M105.5 1009.5H1485.5"/><path d="M105.5 983.5H1485.5"/><path d="M105.5 957.5H1485.5"/></g><g clip-path="url(#c3u)"><g fill="none" stroke="#000" stroke-width="1.1"><circle cx="165.6" cy="856.5" r="1.1"/><circle cx="187.2" cy="856.5" r="1.1"/><circle cx="207.3" cy="856.5" r="1.1"/><circle cx="220.2" cy="856.5" r="1.1"/><circle cx="235.5" cy="856.5" r="1.1"/><circle cx="289.5" cy="856.5" r="1.1"/><circle cx="359.4" cy="856.5" r="1.1"/><circle cx="360.6" cy="856.5" r="1.1"/><circle cx="484.5" cy="856.5" r="1.1"/><circle cx="524.4" cy="856.5" r="1.1"/><circle cx="591.3" cy="856.5" r="1.1"/><circle cx="612.5" cy="856.5" r="1.1"/><circle cx="644.6" cy="856.5" r="1.1"/><circle cx="649.4" cy="856.5" r="1.1"/><circle cx="711.2" cy="856.5" r="1.1"/><circle cx="765.5" cy="856.5" r="1.1"/><circle cx="771.5" cy="856.5" r="1.1"/><circle cx="777.5" cy="856.5" r="1.1"/><circle cx="788.3" cy="856.5" r="1.1"/><circle cx="790.4" cy="856.5" r="1.1"/><circle cx="820.4" cy="856.5" r="1.1"/><circle cx="849.5" cy="856.5" r="1.1"/><circle cx="851.9" cy="856.5" r="1.1"/><circle cx="854.3" cy="856.5" r="1.1"/><circle cx="861.5" cy="856.5" r="1.1"/><circle cx="909.5" cy="856.5" r="1.1"/><circle cx="911.3" cy="856.5" r="1.1"/><circle cx="938.3" cy="856.5" r="1.1"/><circle cx="956.3" cy="856.5" r="1.1"/><circle cx="979.4" cy="856.5" r="1.1"/><circle cx="984.5" cy="856.5" r="1.1"/><circle cx="993.5" cy="856.5" r="1.1"/><circle cx="1013.3" cy="856.5" r="1.1"/><circle cx="1027.4" cy="856.5" r="1.1"/><circle cx="1052.5" cy="856.5" r="1.1"/><circle cx="1103.5" cy="856.5" r="1.1"/><circle cx="1122.4" cy="856.5" r="1.1"/><circle cx="1138.3" cy="856.5" r="1.1"/><circle cx="1159.3" cy="856.5" r="1.1"/><circle cx="1165.9" cy="856.5" r="1.1"/><circle cx="1167.4" cy="856.5" r="1.1"/><circle cx="1168.3" cy="856.5" r="1.1"/><circle cx="1169.8" cy="856.5" r="1.1"/><circle cx="1176.4" cy="856.5" r="1.1"/><circle cx="1177.4" cy="856.5" r="1.1"/><circle cx="1178.2" cy="856.5" r="1.1"/><circle cx="1179.4" cy="856.5" r="1.1"/><circle cx="1183.6" cy="856.5" r="1.1"/><circle cx="1184.5" cy="856.5" r="1.1"/><circle cx="1186.6" cy="856.5" r="1.1"/><circle cx="1191.4" cy="856.5" r="1.1"/><circle cx="1197.4" cy="856.5" r="1.1"/><circle cx="1198.6" cy="856.5" r="1.1"/><circle cx="1207.3" cy="856.5" r="1.1"/><circle cx="1208.4" cy="856.5" r="1.1"/><circle cx="1209.4" cy="856.5" r="1.1"/><circle cx="1223.5" cy="856.5" r="1.1"/><circle cx="1232.5" cy="856.5" r="1.1"/><circle cx="1233.6" cy="856.5" r="1.1"/><circle cx="1234.6" cy="856.5" r="1.1"/><circle cx="1238.5" cy="856.5" r="1.1"/><circle cx="1245.4" cy="856.5" r="1.1"/><circle cx="1252.6" cy="856.5" r="1.1"/><circle cx="1260.4" cy="856.5" r="1.1"/><circle cx="1261.4" cy="856.5" r="1.1"/><circle cx="1262.5" cy="856.5" r="1.1"/><circle cx="1263.6" cy="856.5" r="1.1"/><circle cx="1264.6" cy="856.5" r="1.1"/><circle cx="1266.0" cy="856.5" r="1.1"/><circle cx="1267.0" cy="856.5" r="1.1"/><circle cx="1271.5" cy="856.5" r="1.1"/><circle cx="1276.3" cy="856.5" r="1.1"/><circle cx="1282.0" cy="856.5" r="1.1"/><circle cx="1283.0" cy="856.5" r="1.1"/><circle cx="1284.1" cy="856.5" r="1.1"/><circle cx="1285.2" cy="856.5" r="1.1"/><circle cx="1286.2" cy="856.5" r="1.1"/><circle cx="1287.4" cy="856.5" r="1.1"/><circle cx="1297.3" cy="856.5" r="1.1"/><circle cx="165.6" cy="889.2" r="1.1"/><circle cx="187.2" cy="889.2" r="1.1"/><circle cx="207.3" cy="889.2" r="1.1"/><circle cx="220.2" cy="889.2" r="1.1"/><circle cx="235.5" cy="889.2" r="1.1"/><circle cx="289.5" cy="889.2" r="1.1"/><circle cx="359.4" cy="889.2" r="1.1"/><circle cx="360.6" cy="889.2" r="1.1"/><circle cx="484.5" cy="889.2" r="1.1"/><circle cx="524.4" cy="889.2" r="1.1"/><circle cx="591.3" cy="889.2" r="1.1"/><circle cx="612.5" cy="889.2" r="1.1"/><circle cx="644.6" cy="889.2" r="1.1"/><circle cx="649.4" cy="889.2" r="1.1"/><circle cx="711.2" cy="889.2" r="1.1"/><circle cx="765.5" cy="889.2" r="1.1"/><circle cx="771.5" cy="889.2" r="1.1"/><circle cx="777.5" cy="889.2" r="1.1"/><circle cx="788.3" cy="889.2" r="1.1"/><circle cx="790.4" cy="889.2" r="1.1"/><circle cx="820.4" cy="889.2" r="1.1"/><circle cx="849.5" cy="889.2" r="1.1"/><circle cx="851.9" cy="889.2" r="1.1"/><circle cx="854.3" cy="889.2" r="1.1"/><circle cx="861.5" cy="889.2" r="1.1"/><circle cx="909.5" cy="889.2" r="1.1"/><circle cx="911.3" cy="889.2" r="1.1"/><circle cx="938.3" cy="889.2" r="1.1"/><circle cx="956.3" cy="889.2" r="1.1"/><circle cx="979.4" cy="889.2" r="1.1"/><circle cx="984.5" cy="889.2" r="1.1"/><circle cx="993.5" cy="889.2" r="1.1"/><circle cx="1013.3" cy="889.2" r="1.1"/><circle cx="1027.4" cy="889.2" r="1.1"/><circle cx="1052.5" cy="889.2" r="1.1"/><circle cx="1103.5" cy="889.2" r="1.1"/><circle cx="1122.4" cy="889.2" r="1.1"/><circle cx="1138.3" cy="889.2" r="1.1"/><circle cx="1159.3" cy="889.2" r="1.1"/><circle cx="1165.9" cy="889.2" r="1.1"/><circle cx="1167.4" cy="889.2" r="1.1"/><circle cx="1168.3" cy="889.2" r="1.1"/><circle cx="1169.8" cy="889.2" r="1.1"/><circle cx="1176.4" cy="889.2" r="1.1"/><circle cx="1177.4" cy="889.2" r="1.1"/><circle cx="1178.2" cy="889.2" r="1.1"/><circle cx="1179.4" cy="889.2" r="1.1"/><circle cx="1183.6" cy="889.2" r="1.1"/><circle cx="1184.5" cy="889.2" r="1.1"/><circle cx="1186.6" cy="889.2" r="1.1"/><circle cx="1191.4" cy="889.2" r="1.1"/><circle cx="1197.4" cy="889.2" r="1.1"/><circle cx="1198.6" cy="889.2" r="1.1"/><circle cx="1207.3" cy="889.2" r="1.1"/><circle cx="1208.4" cy="889.2" r="1.1"/><circle cx="1209.4" cy="889.2" r="1.1"/><circle cx="1223.5" cy="889.2" r="1.1"/><circle cx="1232.5" cy="889.2" r="1.1"/><circle cx="1233.6" cy="889.2" r="1.1"/><circle cx="1234.6" cy="889.2" r="1.1"/><circle cx="1238.5" cy="889.2" r="1.1"/><circle cx="1245.4" cy="889.2" r="1.1"/><circle cx="1252.6" cy="889.2" r="1.1"/><circle cx="1260.4" cy="889.2" r="1.1"/><circle cx="1261.4" cy="889.2" r="1.1"/><circle cx="1262.5" cy="889.2" r="1.1"/><circle cx="1263.6" cy="889.2" r="1.1"/><circle cx="1264.6" cy="889.2" r="1.1"/><circle cx="1266.0" cy="889.2" r="1.1"/><circle cx="1267.0" cy="889.2" r="1.1"/><circle cx="1271.5" cy="889.2" r="1.1"/><circle cx="1276.3" cy="889.2" r="1.1"/><circle cx="1282.0" cy="889.2" r="1.1"/><circle cx="1283.0" cy="889.2" r="1.1"/><circle cx="1284.1" cy="889.2" r="1.1"/><circle cx="1285.2" cy="889.2" r="1.1"/><circle cx="1286.2" cy="889.2" r="1.1"/><circle cx="1287.4" cy="889.2" r="1.1"/><circle cx="1297.3" cy="889.2" r="1.1"/><circle cx="241.5" cy="889.2" r="1.1"/><circle cx="307.5" cy="889.2" r="1.1"/><circle cx="403.5" cy="889.2" r="1.1"/><circle cx="460.5" cy="889.2" r="1.1"/><circle cx="480.3" cy="889.2" r="1.1"/><circle cx="617.3" cy="889.2" r="1.1"/><circle cx="645.8" cy="889.2" r="1.1"/><circle cx="719.3" cy="889.2" r="1.1"/><circle cx="917.3" cy="889.2" r="1.1"/><circle cx="1008.5" cy="889.2" r="1.1"/><circle cx="1101.4" cy="889.2" r="1.1"/><circle cx="1150.3" cy="889.2" r="1.1"/><circle cx="719.3" cy="791.2" r="1.1"/><circle cx="720.3" cy="791.2" r="1.1"/><circle cx="721.4" cy="791.2" r="1.1"/><circle cx="1181.6" cy="791.2" r="1.1"/><circle cx="1182.6" cy="791.2" r="1.1"/></g><g stroke="#800080" stroke-width="2.08" stroke-dasharray="2.08 3.44" fill="none"><path d="M162.0 953.88V725.5"/><path d="M495.0 953.88V725.5"/><path d="M647.0 953.88V725.5"/><path d="M873.0 953.88V725.5"/><path d="M1165.0 953.88V725.5"/><path d="M1211.0 953.88V725.5"/><path d="M1257.0 953.88V725.5"/><path d="M1303.0 953.88V725.5"/></g></g><g clip-path="url(#c3l)"><path d="M161.5 999.75V1008.88M162.5 999.25V1009.12M163.5 999.5V1009.12M164.5 1000.88V1009.88M165.5 1001.5V1009.88M166.5 1002.75V1010M167.5 1003.38V1009.62M168.5 1003.75V1009.75M169.5 1003.88V1009.88M170.5 1004V1009.75M171.5 1004V1009.88M172.5 1003.38V1009.88M173.5 1003.38V1009.5M174.5 1003.25V1009.38M175.5 1003.38V1009.5M176.5 1003.62V1009.38M177.5 1001.25V1010M178.5 1000.88V1009.88M179.5 1001.12V1009.5M180.5 1001.75V1009.62M181.5 1002V1009.75M182.5 1002V1009.38M183.5 1002.12V1009.62M184.5 1003.38V1009.62M185.5 1003.25V1009.5M186.5 1003.5V1009.62M187.5 1002.75V1009.75M188.5 1002.5V1009.5M189.5 1002.88V1009.5M190.5 1003.5V1009.5M191.5 1003.25V1009.62M192.5 1002.62V1009.5M193.5 1002.12V1009.25M194.5 1001.75V1009.38M195.5 1001.75V1009.38M196.5 1002.88V1009.75M197.5 1004V1010M198.5 1003.75V1009.88M199.5 1003V1009.88M200.5 1001.88V1009.5M201.5 1001.5V1009.62M202.5 1001.88V1009.25M203.5 1002.62V1009.5M204.5 1002.75V1009.5M205.5 1001V1009.75M206.5 1000.88V1009.38M207.5 998.62V1009M208.5 997.88V1008.75M209.5 998V1009M210.5 1001.62V1009.75M211.5 1002.25V1009.88M212.5 1002.12V1009.62M213.5 1000.25V1009.62M214.5 999.38V1009.5M215.5 999.5V1009.75M216.5 1002.25V1009.62M217.5 1001.12V1009.5M218.5 1000.38V1009.88M219.5 1000.5V1009.75M220.5 1001.88V1009.62M221.5 1001.38V1009.5M222.5 1000.62V1009.62M223.5 1000.5V1010M224.5 1000.75V1009.75M225.5 1000.12V1009.62M226.5 999.75V1009.38M227.5 999.88V1009.62M228.5 1002.12V1009.62M229.5 1002V1009.62M230.5 1002.25V1010M231.5 1002.75V1009.75M232.5 1003V1009.38M233.5 1002V1009.62M234.5 998.62V1009.88M235.5 998.62V1009.62M236.5 1000.25V1009.38M237.5 1001.62V1009.75M238.5 1002.12V1009.5M239.5 998.5V1009.62M240.5 998.5V1009.62M241.5 1000.88V1009.38M242.5 1001V1009.5M243.5 1001.62V1009.88M244.5 1005V1009.88M245.5 1005.62V1009.88M246.5 1003.88V1009.88M247.5 1003.38V1009.75M248.5 1002.12V1009.5M249.5 999.5V1009.62M250.5 999.5V1009.62M251.5 1001.25V1009.5M252.5 1002.38V1009.75M253.5 1003.12V1009.62M254.5 1001.88V1009.88M255.5 1001.75V1009.75M256.5 1001.38V1009.5M257.5 1001V1009.75M258.5 1001.38V1009.88M259.5 1002.75V1009.88M260.5 1001.75V1009.5M261.5 1001.38V1009.25M262.5 1001.75V1009.5M263.5 1002.75V1010M264.5 1002.88V1010M265.5 1003.25V1009.62M266.5 1002.88V1009.88M267.5 1002.88V1009.62M268.5 1003.38V1009.62M269.5 1003.12V1009.62M270.5 1003.12V1009.5M271.5 1003V1009.62M272.5 1003.5V1009.62M273.5 1000.5V1009.38M274.5 1000V1009.25M275.5 1000V1009.75M276.5 1000.62V1009.62M277.5 1000.75V1009.62M278.5 1000.62V1009.75M279.5 997.62V1009.12M280.5 997.62V1008.62M281.5 998.5V1009.25M282.5 998.88V1009.25M283.5 998.88V1009.38M284.5 999.62V1009.62M285.5 1001.25V1009.5M286.5 1002.25V1009.62M287.5 1002.5V1009.62M288.5 1003.62V1009.75M289.5 1003.88V1009.75M290.5 1003.25V1009.62M291.5 1003.38V1010M292.5 1004.5V1009.75M293.5 1004.38V1009.75M294.5 1004.38V1009.88M295.5 1005.12V1009.75M296.5 1004.88V1010M297.5 1003.5V1009.88M298.5 1003.5V1009.88M299.5 1002.25V1009.88M300.5 1001.5V1009.75M301.5 1001.62V1009.5M302.5 1003.25V1009.5M303.5 1002.12V1009.38M304.5 1002V1009.75M305.5 1002.5V1009.88M306.5 1003.5V1009.38M307.5 1003.25V1009.38M308.5 1003.38V1009.5M309.5 1002.25V1009.62M310.5 1001.88V1009.38M311.5 1002.12V1009.62M312.5 1003.12V1009.88M313.5 1000.75V1009.75M314.5 1000.75V1009.75M315.5 1001.38V1009.62M316.5 1001.62V1009.88M317.5 1002.12V1009.75M318.5 1001.12V1009.5M319.5 1000.88V1009.62M320.5 1001.38V1009.75M321.5 1001.5V1009.88M322.5 1001.38V1009.62M323.5 1002.38V1009.88M324.5 1002.88V1009.5M325.5 1001.25V1009.88M326.5 1000.25V1009.88M327.5 1000.12V1009.62M328.5 1000.75V1009.88M329.5 1001.62V1009.5M330.5 1001.5V1009.25M331.5 1001.5V1009.5M332.5 1002.38V1009.88M333.5 1002.62V1010M334.5 1002.12V1009.12M335.5 1002.38V1009.38M336.5 1002.88V1009.38M337.5 1002.12V1009.38M338.5 1002.12V1009.38M339.5 1002.62V1009.5M340.5 1001.25V1009.5M341.5 1001V1009.12M342.5 1001V1009.5M343.5 1001.12V1009.62M344.5 1002.5V1009.88M345.5 1002.5V1009.88M346.5 1002.25V1009.5M347.5 1002.12V1009.62M348.5 999.5V1009.38M349.5 999.5V1009.38M350.5 1000.62V1009.38M351.5 1000.38V1009.38M352.5 998.88V1009.62M353.5 998.38V1009.38M354.5 998.5V1009.5M355.5 1001V1009.88M356.5 999.75V1009.75M357.5 999.62V1010M358.5 999.75V1009.62M359.5 999.88V1009.38M360.5 1003.62V1009.75M361.5 1003.75V1009.88M362.5 1001V1009.88M363.5 1000.62V1009.62M364.5 1000.88V1009.5M365.5 1002.38V1009.38M366.5 1001.62V1009.75M367.5 1001.25V1009.75M368.5 1001.5V1009.62M369.5 1003.25V1010M370.5 1001.25V1009.75M371.5 1001V1009.25M372.5 999.25V1009.5M373.5 999.25V1009.5M374.5 999.88V1009.5M375.5 998.88V1009.38M376.5 998.5V1009.25M377.5 998.88V1009.5M378.5 1001.75V1009.62M379.5 1002.75V1009.25M380.5 1002.5V1009.62M381.5 1002.88V1009.5M382.5 1002.25V1009.62M383.5 1001V1009.75M384.5 1000.38V1009.38M385.5 1000.5V1009.25M386.5 1000.88V1009.75M387.5 1002V1009.75M388.5 1002.75V1009.62M389.5 1000.75V1009.5M390.5 1000.62V1009.5M391.5 1001.62V1009.75M392.5 1002V1009.62M393.5 1001.62V1009.12M394.5 1001.5V1009.38M395.5 1002.12V1009.12M396.5 1000.88V1009.75M397.5 999.25V1009.88M398.5 998.5V1009.38M399.5 998.62V1009.62M400.5 1002.38V1009.5M401.5 1002.75V1009.25M402.5 997.12V1009M403.5 997V1009.12M404.5 997.88V1009.5M405.5 999.88V1009.38M406.5 1001.62V1009.62M407.5 1001.75V1009.62M408.5 1002.75V1009.75M409.5 1002.62V1009.25M410.5 1002.5V1009.62M411.5 1002.5V1009.88M412.5 1002.25V1009.62M413.5 1001.88V1009.38M414.5 1001.88V1009.25M415.5 1003.12V1009.75M416.5 1003.25V1009.75M417.5 1002.12V1009.75M418.5 999.75V1009.38M419.5 999.12V1009.5M420.5 999.25V1009.25M421.5 1002.62V1009.38M422.5 1003.25V1009.5M423.5 1001.88V1009.25M424.5 1001.75V1009.88M425.5 997V1009.88M426.5 996.5V1010M427.5 996.75V1009.38M428.5 1000.12V1009.12M429.5 1000.88V1009.38M430.5 996.88V1009.25M431.5 996.62V1009.38M432.5 996.88V1009.5M433.5 1000.75V1009.38M434.5 1000.5V1009.38M435.5 1001V1009.25M436.5 1001.5V1009.25M437.5 1003.88V1009.75M438.5 1003.88V1009.75M439.5 1002.25V1009.88M440.5 1001.88V1009.75M441.5 1002.12V1009.12M442.5 1002.38V1009.62M443.5 1002.12V1009.62M444.5 1001.5V1009.62M445.5 1001.75V1009.38M446.5 1001.38V1009.62M447.5 1000.75V1009.75M448.5 1000.38V1009.38M449.5 1000.5V1009.88M450.5 1002.38V1009.88M451.5 1002.5V1010M452.5 1002.38V1009.88M453.5 1003V1009.88M454.5 1003.12V1009.62M455.5 1003.12V1009.62M456.5 1002.38V1009.88M457.5 1002.12V1009.75M458.5 1002.5V1009.75M459.5 1003.62V1010M460.5 1004V1010M461.5 1003.75V1009.75M462.5 1003.38V1009.75M463.5 1003V1009.75M464.5 998.5V1009.12M465.5 998.38V1009.12M466.5 999V1009.12M467.5 1001.25V1009.25M468.5 1002.5V1009.38M469.5 1002.62V1009.62M470.5 1003.62V1009.5M471.5 1003.62V1009.75M472.5 1003.38V1009.62M473.5 1003.12V1009.75M474.5 1002.38V1009.75M475.5 1002.25V1009.88M476.5 1000.25V1009.88M477.5 999.25V1009.75M478.5 998.75V1009.25M479.5 999V1009.88M480.5 1000.62V1010M481.5 1004.38V1009.88M482.5 1004.38V1009.88M483.5 1004.5V1009.75M484.5 1004.12V1009.62M485.5 1003.12V1009.5M486.5 1002.12V1009.5M487.5 1001.5V1009.75M488.5 1001.38V1009.62M489.5 1002V1009.75M490.5 1004.25V1009.75M491.5 1003V1009.62M492.5 1002.5V1009.5M493.5 1002.75V1009.62M494.5 1002.38V1009.5M495.5 1002.38V1009.38M496.5 1000.62V1009.25M497.5 1000.25V1009.12M498.5 1000.5V1009.62M499.5 1003.12V1009.62M500.5 1002.5V1009.5M501.5 1002.62V1009.62M502.5 1003V1009.12M503.5 1002.75V1009.5M504.5 1003.12V1009.5M505.5 1003.75V1009.5M506.5 1002.75V1009.5M507.5 1002.62V1009.5M508.5 1002.25V1009.5M509.5 1002.38V1009.5M510.5 1002.88V1009.62M511.5 1002.38V1009.5M512.5 1002.12V1009.75M513.5 1002.62V1009.75M514.5 1002.5V1009.88M515.5 1002.5V1009.75M516.5 1003.25V1009.62M517.5 1004.12V1009.88M518.5 1004.12V1009.62M519.5 1003.62V1009.75M520.5 1003.62V1010M521.5 1004.12V1009.5M522.5 1003.12V1009.75M523.5 1001.5V1009.75M524.5 1001.25V1009M525.5 1001.5V1009.5M526.5 1003.38V1009.62M527.5 1002.62V1009.62M528.5 1002.25V1009.62M529.5 1002V1009.5M530.5 1001.88V1009.38M531.5 1002.62V1009.5M532.5 1004.38V1009.75M533.5 1003.62V1009.5M534.5 1003.75V1009.88M535.5 1003.62V1009.75M536.5 1003.75V1009.75M537.5 1004.12V1009.88M538.5 1003.62V1009.88M539.5 1003.38V1009.5M540.5 1003.75V1009.88M541.5 1004.38V1009.88M542.5 1002.88V1009.62M543.5 1002V1009.5M544.5 1001.88V1009.38M545.5 1003V1009.5M546.5 1004.62V1010M547.5 1003.62V1010M548.5 1003.25V1009.75M549.5 1003.12V1009.38M550.5 1003V1009.5M551.5 1003.12V1009.62M552.5 1002.38V1009.62M553.5 1002.38V1009.75M554.5 1002.62V1009.88M555.5 1002.38V1009.75M556.5 1002.62V1009.88M557.5 1005.88V1009.88M558.5 1005.75V1010M559.5 1005.75V1010M560.5 1005.38V1009.88M561.5 1003.75V1009.88M562.5 1003.75V1009.75M563.5 1003.25V1009.5M564.5 1003.25V1009.75M565.5 1004.38V1009.88M566.5 1004.38V1010M567.5 1002.75V1010M568.5 1002.75V1009.88M569.5 1003.62V1009.88M570.5 1004.88V1009.88M571.5 1005.25V1009.88M572.5 1004.38V1009.88M573.5 1004.5V1009.88M574.5 1004.75V1009.88M575.5 1003.62V1009.62M576.5 1003.25V1009.88M577.5 1003.5V1009.88M578.5 1004.38V1010M579.5 1005.12V1009.75M580.5 1004.75V1009.75M581.5 1002.12V1009.75M582.5 1001.62V1009.5M583.5 1001.88V1009.5M584.5 1004V1009.75M585.5 1003.38V1009.62M586.5 1003.38V1009.75M587.5 1003.25V1009.88M588.5 1003.12V1009.88M589.5 1003.12V1009.62M590.5 1003.38V1009.62M591.5 1004.25V1009.75M592.5 1004.5V1009.75M593.5 1004V1009.75M594.5 1004V1009.88M595.5 1003.12V1009.75M596.5 1003V1009.25M597.5 1003.5V1009.38M598.5 1004.12V1009.88M599.5 1003.88V1009.75M600.5 1004.5V1009.62M601.5 1004.12V1009.88M602.5 1003.5V1009.88M603.5 1003.25V1009.75M604.5 1003.5V1009.75M605.5 1003.88V1009.5M606.5 1003.12V1009.75M607.5 1003V1009.5M608.5 1002.75V1009.5M609.5 1001.5V1009.88M610.5 1001.5V1009.62M611.5 1002.25V1009.88M612.5 1002.75V1009.88M613.5 1002.62V1009.62M614.5 999.38V1009.5M615.5 999.12V1009.62M616.5 999.38V1009.88M617.5 1003V1009.62M618.5 1004.62V1009.88M619.5 1003.88V1009.62M620.5 1003.75V1010M621.5 1004.12V1010M622.5 1004V1009.75M623.5 1003.75V1009.75M624.5 1003.88V1009.62M625.5 1004.38V1009.75M626.5 1005V1009.88M627.5 1004.5V1009.88M628.5 1003.38V1009.62M629.5 1003.25V1009.5M630.5 1003.12V1009.62M631.5 1002.38V1009.62M632.5 1002.5V1009.62M633.5 1004.88V1009.75M634.5 1004.75V1009.75M635.5 1004.5V1009.88M636.5 1004V1009.88M637.5 1004V1009.75M638.5 1004.5V1010M639.5 1004.88V1009.88M640.5 1004.88V1009.62M641.5 1004.62V1009.75M642.5 1003.38V1009.5M643.5 1002.75V1009.38M644.5 1002.38V1009.38M645.5 1002.62V1009.62M646.5 1003.62V1009.75M647.5 1004.88V1009.62M648.5 1002.5V1009.88M649.5 1002.25V1009.88M650.5 1002.62V1010M651.5 1003.88V1009.88M652.5 1002.88V1010M653.5 1001.88V1009.88M654.5 1002V1009.88M655.5 1002.75V1010M656.5 1005.12V1009.88M657.5 1004.75V1009.75M658.5 1003.62V1009.75M659.5 1003.75V1010M660.5 1005V1009.75M661.5 1004.88V1009.88M662.5 1005.12V1010M663.5 1003.38V1010M664.5 1003.12V1009.88M665.5 1003.5V1009.75M666.5 1003.5V1009.88M667.5 1003.5V1009.88M668.5 1003.75V1009.88M669.5 1003.5V1009.5M670.5 1003.88V1009.75M671.5 1003.62V1009.88M672.5 1003.62V1009.75M673.5 1003.5V1009.5M674.5 1003.88V1009.62M675.5 1003.75V1009.75M676.5 1003.75V1009.75M677.5 1003.75V1009.75M678.5 1003.88V1009.88M679.5 1003.88V1010M680.5 1003.5V1009.88M681.5 1002.5V1009.75M682.5 1002.12V1009.62M683.5 1002.12V1009.75M684.5 1000.75V1009.75M685.5 1000.75V1009.62M686.5 1001.62V1009.88M687.5 1001.5V1009.75M688.5 1001.88V1009.75M689.5 1005.25V1009.75M690.5 1005.5V1009.88M691.5 1005.75V1009.88M692.5 1005.5V1009.75M693.5 1005.38V1010M694.5 1005.25V1009.75M695.5 1005V1009.88M696.5 1004.12V1009.88M697.5 1003.75V1009.75M698.5 1004.12V1009.62M699.5 1004.38V1009.62M700.5 1004.62V1009.88M701.5 1003.25V1009.75M702.5 1003.12V1009.75M703.5 1003.75V1009.75M704.5 1005.75V1009.88M705.5 1005.38V1009.75M706.5 1004.38V1009.75M707.5 1003.75V1009.75M708.5 1003.75V1009.5M709.5 1004.25V1009.62M710.5 1004V1009.75M711.5 1004V1009.88M712.5 1004.38V1009.5M713.5 1002.88V1009.62M714.5 1002.75V1009.88M715.5 1003.38V1009.88M716.5 1005V1009.62M717.5 1005.12V1009.62M718.5 1005.25V1009.62M719.5 1005.25V1010M720.5 1005.12V1009.88M721.5 1004.75V1009.88M722.5 1004.12V1009.88M723.5 1001.75V1009.62M724.5 1001.25V1009.38M725.5 1001.5V1009.25M726.5 1001.88V1009.38M727.5 1002V1009.38M728.5 1003V1009.62M729.5 1003.88V1009.75M730.5 1003.88V1009.88M731.5 1004.38V1009.62M732.5 1004.38V1009.75M733.5 1003V1009.75M734.5 1002.5V1009.38M735.5 1002.75V1009.62M736.5 1002.75V1009.88M737.5 1002.12V1009.5M738.5 1002.25V1009.75M739.5 1002.25V1009.88M740.5 1002.5V1009.62M741.5 1003.5V1009.88M742.5 1003.25V1009.75M743.5 1003V1009.5M744.5 1003V1009.62M745.5 1004V1009.75M746.5 1004.5V1009.62M747.5 1004.12V1009.5M748.5 1003.5V1009.38M749.5 1003.5V1009.5M750.5 1004V1009.75M751.5 1004.62V1009.75M752.5 1004.88V1009.62M753.5 1004.88V1010M754.5 1003.5V1009.88M755.5 1003.12V1009.62M756.5 1003.38V1009.75M757.5 1003.5V1009.75M758.5 1003.25V1009.75M759.5 1003.25V1009.5M760.5 1003.75V1009.62M761.5 1003.75V1009.38M762.5 1003.62V1009.75M763.5 1004.12V1009.62M764.5 1003.88V1009.75M765.5 1004V1009.75M766.5 1003.25V1009.38M767.5 1003V1009.5M768.5 1003.12V1009.75M769.5 1003.88V1009.62M770.5 1003.5V1009.88M771.5 1003.62V1009.88M772.5 1003.38V1009.88M773.5 1002.38V1009.75M774.5 1002.12V1009.75M775.5 1002.62V1009.62M776.5 1002.12V1009.5M777.5 1001.75V1009.75M778.5 1002.12V1009.62M779.5 1003.75V1009.75M780.5 1003.62V1009.62M781.5 1003.62V1009.75M782.5 1004.5V1009.88M783.5 1005V1009.88M784.5 1004.62V1009.75M785.5 1004.5V1009.62M786.5 1005.38V1010M787.5 1005.25V1009.88M788.5 1003.75V1010M789.5 1002.5V1009.62M790.5 1002.5V1009.88M791.5 1002.5V1009.75M792.5 1002.62V1009.62M793.5 1004.25V1009.75M794.5 1004.88V1010M795.5 1004.25V1009.88M796.5 1004V1009.88M797.5 1004V1009.5M798.5 1002.62V1009.88M799.5 1002.25V1009.75M800.5 1002.62V1009.62M801.5 1003.88V1009.25M802.5 1004.12V1009.62M803.5 1003.12V1009.5M804.5 1001.62V1009.38M805.5 1001.5V1009.38M806.5 1002.12V1009.25M807.5 1003.12V1009.5M808.5 1003.5V1009.62M809.5 1003.62V1009.88M810.5 1003.5V1010M811.5 1004.12V1009.75M812.5 1005.25V1010M813.5 1005V1009.88M814.5 1003.25V1009.75M815.5 1002.88V1010M816.5 1002.88V1009.88M817.5 1003.38V1009.62M818.5 1002V1009.62M819.5 1001.5V1009.75M820.5 1001.75V1009.5M821.5 1002.75V1009.5M822.5 1004.12V1009.88M823.5 1003.38V1009.88M824.5 1003.12V1009.75M825.5 1003.5V1009.62M826.5 1004.5V1009.75M827.5 1003.88V1009.75M828.5 1003.38V1009.5M829.5 1003.12V1009.5M830.5 1003.12V1009.62M831.5 1003V1009.88M832.5 1003.38V1009.75M833.5 1003.25V1009.75M834.5 1003.62V1009.88M835.5 1003.12V1009.75M836.5 1002.38V1009.75M837.5 1002.38V1009.5M838.5 1002.5V1009.88M839.5 1001.62V1009.88M840.5 1001.25V1009.12M841.5 1001.38V1009.5M842.5 1004V1009.88M843.5 1003.75V1010M844.5 1003.75V1009.75M845.5 1002.25V1009.88M846.5 1001.75V1009.88M847.5 1002V1009.5M848.5 1002.5V1009.5M849.5 1002.5V1009.38M850.5 1002.75V1009.5M851.5 1003.5V1009.75M852.5 1004.12V1009.62M853.5 1004.12V1009.62M854.5 1001.62V1009.62M855.5 1001.38V1009.62M856.5 1001.88V1009.62M857.5 1002.5V1009.62M858.5 1004.38V1009.75M859.5 1005.12V1009.88M860.5 1004.12V1009.62M861.5 1004V1009.62M862.5 1005V1009.62M863.5 1005.5V1009.62M864.5 1005V1009.62M865.5 1005V1009.5M866.5 1004V1009.75M867.5 1002.75V1009.88M868.5 1002.5V1009.62M869.5 1003.12V1009.75M870.5 1004.38V1009.75M871.5 1004.25V1009.75M872.5 1004.5V1009.62M873.5 1004.38V1009.88M874.5 1001.62V1010M875.5 1001.5V1009.5M876.5 1002.38V1009.75M877.5 1003.75V1010M878.5 1003.88V1009.62M879.5 1002.38V1009.5M880.5 1002.25V1009.5M881.5 1002.62V1009.5M882.5 1001.88V1009.75M883.5 1001.25V1009.88M884.5 1001V1009.88M885.5 1001.38V1010M886.5 1001.75V1009.75M887.5 1003.62V1010M888.5 1003.38V1009.75M889.5 1003.5V1009.75M890.5 1004.38V1009.88M891.5 1005V1009.88M892.5 1005.12V1009.75M893.5 1005.62V1009.88M894.5 1003.12V1009.88M895.5 1002V1009.75M896.5 1000.25V1009.5M897.5 999.88V1009.25M898.5 1000.25V1009.25M899.5 1003.25V1009.75M900.5 1003.5V1009.62M901.5 1004.5V1009.75M902.5 1004.75V1010M903.5 1004.75V1009.88M904.5 1004.88V1009.88M905.5 1004.25V1010M906.5 1004V1009.5M907.5 1004.38V1010M908.5 1004V1009.75M909.5 1001.25V1009.62M910.5 1001.12V1009.75M911.5 1002V1009.88M912.5 1001.25V1009.75M913.5 1001V1009.5M914.5 1001.5V1009.88M915.5 1002.88V1009.62M916.5 1002.12V1009.62M917.5 1002.12V1009.88M918.5 1003.88V1009.75M919.5 1003.88V1009.75M920.5 1004.25V1009.88M921.5 1003.88V1010M922.5 1003.88V1009.75M923.5 1004.12V1009.75M924.5 1004.38V1009.88M925.5 1003.62V1009.62M926.5 1003.5V1009.62M927.5 1003.5V1009.75M928.5 1003.38V1009.62M929.5 1003.12V1009.75M930.5 1002.88V1009.75M931.5 1002.5V1009.88M932.5 1001.88V1009.5M933.5 1002V1009.5M934.5 1002.75V1009.75M935.5 1003.12V1009.88M936.5 1003.75V1009.75M937.5 1004.12V1009.75M938.5 1004.25V1009.75M939.5 1003.25V1009.75M940.5 1001.88V1010M941.5 1001.88V1009.75M942.5 1004.88V1009.62M943.5 1004.75V1009.75M944.5 1003.75V1009.75M945.5 1003.75V1009.75M946.5 1003.38V1009.62M947.5 1003.38V1009.62M948.5 1003.75V1009.88M949.5 1003.75V1009.88M950.5 1004.25V1009.88M951.5 1004.12V1010M952.5 1004V1009.88M953.5 1003.12V1009.88M954.5 1003.25V1009.5M955.5 1003.88V1009.38M956.5 1003.88V1009.62M957.5 1003.25V1009.88M958.5 1003.12V1009.75M959.5 1003.62V1009.88M960.5 1003.88V1009.75M961.5 1004.5V1009.88M962.5 1005V1009.75M963.5 1003.88V1009.75M964.5 1003.75V1009.88M965.5 1002.62V1009.88M966.5 1002.25V1009.62M967.5 1001.88V1009.5M968.5 1002.25V1009.75M969.5 1003.38V1009.62M970.5 1002.25V1009.62M971.5 1002V1009.5M972.5 1002.25V1009.5M973.5 1003.38V1010M974.5 1003.38V1009.88M975.5 1003.38V1009.62M976.5 1002.25V1009.5M977.5 1002.25V1009.75M978.5 1004.5V1009.88M979.5 1003.5V1009.88M980.5 1003.38V1009.62M981.5 1002.75V1009.38M982.5 1002.88V1009.5M983.5 1004.75V1009.88M984.5 1004.88V1009.88M985.5 1004.12V1009.88M986.5 1004.25V1009.38M987.5 1004.62V1009.75M988.5 1004.75V1009.75M989.5 1004V1010M990.5 1004.12V1009.75M991.5 1004.62V1009.62M992.5 1002.75V1009.62M993.5 1002.25V1009.5M994.5 1002.5V1009.88M995.5 1002.62V1009.88M996.5 1003.38V1009.88M997.5 1003.5V1009.88M998.5 1003.25V1010M999.5 1002.88V1009.5M1000.5 1003.12V1009.75M1001.5 1004V1009.88M1002.5 1002.75V1009.62M1003.5 1002.75V1010M1004.5 1003V1009.88M1005.5 1003.25V1009.88M1006.5 1004.5V1010M1007.5 1004.5V1009.75M1008.5 1004.38V1009.75M1009.5 1004V1009.5M1010.5 1004.38V1009.62M1011.5 1004.5V1009.88M1012.5 1003.75V1009.62M1013.5 1003.5V1009.5M1014.5 1003.38V1009.88M1015.5 1003V1009.88M1016.5 1001.88V1009.5M1017.5 1001.88V1009.75M1018.5 1002.62V1009.88M1019.5 1002.5V1009.38M1020.5 1002V1009.5M1021.5 1001.75V1009.5M1022.5 1001.88V1009.75M1023.5 1004.5V1009.75M1024.5 1003.38V1009.88M1025.5 1002.88V1009.88M1026.5 1003V1009.75M1027.5 1003.5V1009.5M1028.5 1001.75V1009.75M1029.5 1001V1009.62M1030.5 1000.88V1009.38M1031.5 1001V1009.25M1032.5 1001V1009.5M1033.5 1003.88V1009.62M1034.5 1004.62V1009.75M1035.5 1004.5V1009.5M1036.5 1003.62V1009.62M1037.5 1003.62V1009.5M1038.5 1003.5V1009.75M1039.5 1002.75V1009.88M1040.5 1002.62V1009.88M1041.5 1003V1009.88M1042.5 1003.12V1009.75M1043.5 1003.5V1009.88M1044.5 1004V1009.62M1045.5 1004.12V1009.75M1046.5 1004V1009.38M1047.5 1003.62V1009.5M1048.5 1003.25V1009.38M1049.5 1003.62V1009.75M1050.5 1004.5V1009.88M1051.5 1004.62V1009.75M1052.5 1004.25V1009.75M1053.5 1004.25V1009.75M1054.5 1004.12V1010M1055.5 1002.62V1010M1056.5 1001.38V1009.62M1057.5 1001.25V1009.62M1058.5 1001.38V1009M1059.5 1001.5V1009.25M1060.5 1001.88V1009.5M1061.5 1003.5V1009.5M1062.5 1003.62V1009.62M1063.5 1002.62V1009.62M1064.5 1002.5V1010M1065.5 1003.12V1009.88M1066.5 1003.75V1009.5M1067.5 1004.12V1009.62M1068.5 1003.38V1009.88M1069.5 1003.25V1009.88M1070.5 1003.5V1009.38M1071.5 1002.5V1009.25M1072.5 1002.38V1009.62M1073.5 1002.38V1009.5M1074.5 1002.88V1009.5M1075.5 1004.38V1009.75M1076.5 1004.5V1009.88M1077.5 1004V1009.62M1078.5 1003.62V1009.62M1079.5 1003.5V1009.62M1080.5 1003.75V1009.88M1081.5 1001.62V1010M1082.5 1001.38V1009.88M1083.5 1001.75V1009.75M1084.5 1004.12V1009.75M1085.5 1004.62V1009.88M1086.5 1004.75V1009.62M1087.5 1004.88V1009.75M1088.5 1003.5V1009.62M1089.5 1000.25V1009.75M1090.5 999.88V1009.88M1091.5 1000.25V1009.75M1092.5 1002.38V1009.75M1093.5 1004V1009.62M1094.5 1003.38V1009.62M1095.5 1002.75V1009.5M1096.5 1002.25V1009.88M1097.5 1001.75V1009.62M1098.5 1001.62V1009.12M1099.5 1002V1009.5M1100.5 1002.88V1009.5M1101.5 1002.88V1009.5M1102.5 1004V1009.5M1103.5 1004.62V1009.75M1104.5 1003.5V1009.62M1105.5 1003.38V1009.75M1106.5 1004.25V1009.88M1107.5 1005V1010M1108.5 1005V1010M1109.5 1005.25V1009.75M1110.5 1004.62V1010M1111.5 1004.38V1010M1112.5 1004.12V1009.88M1113.5 1004.62V1009.88M1114.5 1005V1009.5M1115.5 1005.25V1009.62M1116.5 1005.38V1010M1117.5 1005.38V1009.88M1118.5 1004.75V1009.75M1119.5 1003.88V1009.75M1120.5 1003.88V1009.62M1121.5 1003.88V1009.5M1122.5 1003.88V1009.62M1123.5 1003.88V1009.75M1124.5 1004.62V1009.88M1125.5 1004.62V1009.88M1126.5 1001.88V1009.62M1127.5 1001.5V1009.62M1128.5 1001.62V1009.75M1129.5 1000.62V1009.75M1130.5 1000V1009.75M1131.5 999.5V1009.38M1132.5 999.75V1009.5M1133.5 1004V1009.88M1134.5 1004.25V1009.75M1135.5 1003.75V1009.62M1136.5 1003.62V1009.75M1137.5 1003.75V1009.75M1138.5 1003.25V1009.25M1139.5 1003.5V1009.5M1140.5 1004.38V1009.62M1141.5 1003.38V1009.62M1142.5 1001.75V1009.62M1143.5 1001.5V1009.75M1144.5 1001.75V1009.88M1145.5 1004.12V1009.62M1146.5 1004.5V1009.62M1147.5 1004.12V1009.88M1148.5 1004.12V1009.75M1149.5 1003.5V1009.88M1150.5 1003.5V1009.75M1151.5 1003.62V1009.5M1152.5 1003V1009.38M1153.5 1002.25V1009.88M1154.5 1002V1009.75M1155.5 1001.62V1009.75M1156.5 1001.25V1009.88M1157.5 1001.5V1010M1158.5 1002.12V1009.62M1159.5 1003.88V1010M1160.5 1001.62V1009.88M1161.5 1001.12V1009.62M1162.5 1001.38V1009.5M1163.5 1003.25V1010M1164.5 1004.12V1010M1165.5 1004.12V1009.75M1166.5 1004.12V1009.62M1167.5 1000.25V1009.62M1168.5 999.75V1009.38M1169.5 999.88V1009.62M1170.5 1000.62V1009.88M1171.5 1001.5V1009.88M1172.5 1002.5V1009.75M1173.5 1001.88V1009.25M1174.5 1001.5V1009.38M1175.5 1001.88V1009.38M1176.5 1000.25V1009.5M1177.5 999.62V1009.25M1178.5 999.75V1009.88M1179.5 998.12V1010M1180.5 995.62V1009.5M1181.5 995.5V1008.75M1182.5 995.88V1009.12M1183.5 994.5V1009M1184.5 992.25V1008.12M1185.5 992.25V1009.62M1186.5 992.75V1009.62M1187.5 997.12V1009M1188.5 998V1009.25M1189.5 996.5V1009.12M1190.5 996.12V1009M1191.5 996.38V1008.88M1192.5 996.75V1009.38M1193.5 1001.38V1009.38M1194.5 1002V1009.25M1195.5 1001.12V1009.38M1196.5 1000.62V1009.75M1197.5 999.75V1009.62M1198.5 999.75V1009.88M1199.5 1002.62V1009.62M1200.5 1002V1009.5M1201.5 1002.12V1009.88M1202.5 1002.38V1009.62M1203.5 1002.25V1009.25M1204.5 997.88V1009.38M1205.5 997.88V1009.5M1206.5 1000.25V1009.75M1207.5 1001.12V1009.62M1208.5 998.5V1009.5M1209.5 998.5V1009.12M1210.5 999.5V1009.38M1211.5 1000.75V1009.25M1212.5 999.88V1009.5M1213.5 999.88V1009.25M1214.5 1001V1009.5M1215.5 1002V1009.62M1216.5 1001.75V1009.75M1217.5 1002.12V1009.75M1218.5 1002.25V1009.25M1219.5 1000.5V1009.25M1220.5 999.62V1009.12M1221.5 999.62V1009.38M1222.5 1001.75V1009.62M1223.5 1000.75V1009.62M1224.5 1000.5V1009.75M1225.5 1000.75V1009.88M1226.5 1003.38V1009.62M1227.5 1003.62V1009.62M1228.5 1002.88V1009.5M1229.5 1002.12V1009.38M1230.5 1001.25V1009.38M1231.5 1001.38V1009.12M1232.5 1002.12V1009.5M1233.5 1002.12V1009.62M1234.5 1001.75V1009.62M1235.5 1001.75V1009.75M1236.5 1001.75V1009.62M1237.5 1002.25V1009.38M1238.5 1002.38V1009M1239.5 1001.5V1009.38M1240.5 1001.38V1009.62M1241.5 1000.88V1009.62M1242.5 1001V1009.62M1243.5 1001.38V1009.38M1244.5 1001.5V1009.38M1245.5 1002V1009.75M1246.5 1003.62V1009.5M1247.5 1003.88V1009.38M1248.5 1003.75V1009.5M1249.5 1004V1009.62M1250.5 1004.12V1010M1251.5 1003.75V1009.88M1252.5 1003.62V1009.5M1253.5 1003.62V1009.62M1254.5 1002.5V1009.62M1255.5 1001.88V1009.88M1256.5 1002V1009.75M1257.5 1002V1009.75M1258.5 999.88V1009.75M1259.5 998.88V1009.12M1260.5 998V1009M1261.5 998.12V1009.38M1262.5 1001V1009.62M1263.5 1001V1009.38M1264.5 1001.25V1009.62M1265.5 1001.38V1009.5M1266.5 998.88V1009.12M1267.5 998.25V1009.25M1268.5 997.38V1009.12M1269.5 997.5V1009.12M1270.5 999.75V1009.38M1271.5 1001.38V1009.62M1272.5 1002V1009.62M1273.5 1002.25V1009.75M1274.5 1002.5V1009.38M1275.5 1002.75V1009.5M1276.5 1002.38V1009.5M1277.5 999.75V1009.38M1278.5 999.38V1009.62M1279.5 999.62V1009.75M1280.5 999.38V1009M1281.5 999.5V1009.12M1282.5 1000.25V1009.38M1283.5 995.38V1009.25M1284.5 994.88V1009.25M1285.5 995V1008.75M1286.5 994.88V1008.88M1287.5 995.12V1008.62M1288.5 996.12V1008.25M1289.5 998V1009.25M1290.5 999.75V1009.25M1291.5 1000.25V1009.5M1292.5 1000V1009.5M1293.5 999.88V1009.5M1294.5 998.5V1009.38M1295.5 998.5V1009.62M1296.5 999.25V1009.25M1297.5 998.62V1009.12M1298.5 997.75V1009.62M1299.5 997.88V1009.88M1300.5 1000V1009.62M1301.5 1000.5V1010M1302.5 1000.62V1009.88M1303.5 1001.12V1009.12" stroke="#000" stroke-width="1" fill="none"/><g fill="#000"><circle cx="205.5" cy="995.5" r="1.3"/><circle cx="209.4" cy="993.7" r="1.3"/><circle cx="217.5" cy="997.6" r="1.3"/><circle cx="256.5" cy="997.6" r="1.3"/><circle cx="453.3" cy="995.5" r="1.3"/><circle cx="536.4" cy="993.7" r="1.3"/><circle cx="544.5" cy="1001.5" r="1.3"/><circle cx="599.3" cy="1001.5" r="1.3"/><circle cx="623.3" cy="996.7" r="1.3"/><circle cx="630.5" cy="995.5" r="1.3"/><circle cx="647.3" cy="998.5" r="1.3"/><circle cx="686.3" cy="1000.6" r="1.3"/><circle cx="697.4" cy="995.5" r="1.3"/><circle cx="701.3" cy="997.6" r="1.3"/><circle cx="964.4" cy="997.6" r="1.3"/><circle cx="988.4" cy="996.7" r="1.3"/><circle cx="1034.3" cy="995.5" r="1.3"/><circle cx="1034.5" cy="995.5" r="1.3"/><circle cx="1073.5" cy="999.7" r="1.3"/><circle cx="1081.3" cy="995.5" r="1.3"/><circle cx="1158.4" cy="995.5" r="1.3"/><circle cx="1209.4" cy="994.6" r="1.3"/><circle cx="1257.4" cy="994.6" r="1.3"/></g><g fill="#f00"><circle cx="179.4" cy="991.6" r="1.3"/><circle cx="201.3" cy="991.6" r="1.3"/><circle cx="296.4" cy="985.6" r="1.3"/><circle cx="307.5" cy="968.8" r="1.3"/><circle cx="403.5" cy="964.9" r="1.3"/><circle cx="460.5" cy="974.8" r="1.3"/><circle cx="470.4" cy="985.6" r="1.3"/><circle cx="480.3" cy="976.0" r="1.3"/><circle cx="494.4" cy="992.8" r="1.3"/><circle cx="617.3" cy="978.7" r="1.3"/><circle cx="613.4" cy="988.6" r="1.3"/><circle cx="661.4" cy="992.8" r="1.3"/><circle cx="771.5" cy="991.6" r="1.3"/><circle cx="881.3" cy="990.7" r="1.3"/><circle cx="937.4" cy="985.6" r="1.3"/><circle cx="1008.5" cy="967.6" r="1.3"/><circle cx="1101.4" cy="972.7" r="1.3"/><circle cx="1150.3" cy="965.8" r="1.3"/><circle cx="1136.5" cy="992.8" r="1.3"/><circle cx="1161.4" cy="986.8" r="1.3"/><circle cx="1183.3" cy="992.8" r="1.3"/><circle cx="1185.4" cy="991.6" r="1.3"/><circle cx="1184.3" cy="990.8" r="1.3"/></g><g fill="none" stroke="#f00" stroke-width="1.1" stroke-linejoin="miter"><path d="M165.6 956.5l1.15 2.2h-2.3z"/><path d="M187.2 956.5l1.15 2.2h-2.3z"/><path d="M207.3 956.5l1.15 2.2h-2.3z"/><path d="M220.2 956.5l1.15 2.2h-2.3z"/><path d="M235.5 956.5l1.15 2.2h-2.3z"/><path d="M289.5 956.5l1.15 2.2h-2.3z"/><path d="M359.4 956.5l1.15 2.2h-2.3z"/><path d="M360.6 956.5l1.15 2.2h-2.3z"/><path d="M484.5 956.5l1.15 2.2h-2.3z"/><path d="M524.4 956.5l1.15 2.2h-2.3z"/><path d="M591.3 956.5l1.15 2.2h-2.3z"/><path d="M612.5 956.5l1.15 2.2h-2.3z"/><path d="M644.6 956.5l1.15 2.2h-2.3z"/><path d="M649.4 956.5l1.15 2.2h-2.3z"/><path d="M711.2 956.5l1.15 2.2h-2.3z"/><path d="M765.5 956.5l1.15 2.2h-2.3z"/><path d="M771.5 956.5l1.15 2.2h-2.3z"/><path d="M777.5 956.5l1.15 2.2h-2.3z"/><path d="M788.3 956.5l1.15 2.2h-2.3z"/><path d="M790.4 956.5l1.15 2.2h-2.3z"/><path d="M820.4 956.5l1.15 2.2h-2.3z"/><path d="M849.5 956.5l1.15 2.2h-2.3z"/><path d="M851.9 956.5l1.15 2.2h-2.3z"/><path d="M854.3 956.5l1.15 2.2h-2.3z"/><path d="M861.5 956.5l1.15 2.2h-2.3z"/><path d="M909.5 956.5l1.15 2.2h-2.3z"/><path d="M911.3 956.5l1.15 2.2h-2.3z"/><path d="M938.3 956.5l1.15 2.2h-2.3z"/><path d="M956.3 956.5l1.15 2.2h-2.3z"/><path d="M979.4 956.5l1.15 2.2h-2.3z"/><path d="M984.5 956.5l1.15 2.2h-2.3z"/><path d="M993.5 956.5l1.15 2.2h-2.3z"/><path d="M1013.3 956.5l1.15 2.2h-2.3z"/><path d="M1027.4 956.5l1.15 2.2h-2.3z"/><path d="M1052.5 956.5l1.15 2.2h-2.3z"/><path d="M1103.5 956.5l1.15 2.2h-2.3z"/><path d="M1122.4 956.5l1.15 2.2h-2.3z"/><path d="M1138.3 956.5l1.15 2.2h-2.3z"/><path d="M1159.3 956.5l1.15 2.2h-2.3z"/><path d="M1165.9 956.5l1.15 2.2h-2.3z"/><path d="M1167.4 956.5l1.15 2.2h-2.3z"/><path d="M1168.3 956.5l1.15 2.2h-2.3z"/><path d="M1169.8 956.5l1.15 2.2h-2.3z"/><path d="M1176.4 956.5l1.15 2.2h-2.3z"/><path d="M1177.4 956.5l1.15 2.2h-2.3z"/><path d="M1178.2 956.5l1.15 2.2h-2.3z"/><path d="M1179.4 956.5l1.15 2.2h-2.3z"/><path d="M1183.6 956.5l1.15 2.2h-2.3z"/><path d="M1184.5 956.5l1.15 2.2h-2.3z"/><path d="M1186.6 956.5l1.15 2.2h-2.3z"/><path d="M1191.4 956.5l1.15 2.2h-2.3z"/><path d="M1197.4 956.5l1.15 2.2h-2.3z"/><path d="M1198.6 956.5l1.15 2.2h-2.3z"/><path d="M1207.3 956.5l1.15 2.2h-2.3z"/><path d="M1208.4 956.5l1.15 2.2h-2.3z"/><path d="M1209.4 956.5l1.15 2.2h-2.3z"/><path d="M1223.5 956.5l1.15 2.2h-2.3z"/><path d="M1232.5 956.5l1.15 2.2h-2.3z"/><path d="M1233.6 956.5l1.15 2.2h-2.3z"/><path d="M1234.6 956.5l1.15 2.2h-2.3z"/><path d="M1238.5 956.5l1.15 2.2h-2.3z"/><path d="M1245.4 956.5l1.15 2.2h-2.3z"/><path d="M1252.6 956.5l1.15 2.2h-2.3z"/><path d="M1260.4 956.5l1.15 2.2h-2.3z"/><path d="M1261.4 956.5l1.15 2.2h-2.3z"/><path d="M1262.5 956.5l1.15 2.2h-2.3z"/><path d="M1263.6 956.5l1.15 2.2h-2.3z"/><path d="M1264.6 956.5l1.15 2.2h-2.3z"/><path d="M1266.0 956.5l1.15 2.2h-2.3z"/><path d="M1267.0 956.5l1.15 2.2h-2.3z"/><path d="M1271.5 956.5l1.15 2.2h-2.3z"/><path d="M1276.3 956.5l1.15 2.2h-2.3z"/><path d="M1282.0 956.5l1.15 2.2h-2.3z"/><path d="M1283.0 956.5l1.15 2.2h-2.3z"/><path d="M1284.1 956.5l1.15 2.2h-2.3z"/><path d="M1285.2 956.5l1.15 2.2h-2.3z"/><path d="M1286.2 956.5l1.15 2.2h-2.3z"/><path d="M1287.4 956.5l1.15 2.2h-2.3z"/><path d="M1297.3 956.5l1.15 2.2h-2.3z"/><path d="M241.5 956.5l1.15 2.2h-2.3z"/><path d="M645.8 956.5l1.15 2.2h-2.3z"/><path d="M719.3 956.5l1.15 2.2h-2.3z"/><path d="M720.3 956.5l1.15 2.2h-2.3z"/><path d="M721.4 956.5l1.15 2.2h-2.3z"/><path d="M722.3 956.5l1.15 2.2h-2.3z"/><path d="M917.3 956.5l1.15 2.2h-2.3z"/></g><g stroke="#800080" stroke-width="2.08" stroke-dasharray="2.08 3.44" fill="none"><path d="M162.0 1010.88V954.5"/><path d="M495.0 1010.88V954.5"/><path d="M647.0 1010.88V954.5"/><path d="M873.0 1010.88V954.5"/><path d="M1165.0 1010.88V954.5"/><path d="M1211.0 1010.88V954.5"/><path d="M1257.0 1010.88V954.5"/><path d="M1303.0 1010.88V954.5"/></g></g><rect x="105.5" y="725.5" width="1380.0" height="286.0" fill="none" stroke="#000" stroke-width="1.1"/><path d="M105.5 954.5H1485.5" stroke="#000" stroke-width="1.1"/><g stroke="#000" stroke-width="1.1"><path d="M162.5 1011.5v4.9"/><path d="M459.5 1011.5v4.9"/><path d="M756.5 1011.5v4.9"/><path d="M1052.5 1011.5v4.9"/><path d="M1349.5 1011.5v4.9"/></g><g text-anchor="middle"><text x="163.3" y="1031.9">0</text><text x="458.2" y="1031.9">5000</text><text x="755.9" y="1031.9">10000</text><text x="1052.8" y="1031.9">15000</text><text x="1349.2" y="1031.9">20000</text></g><g stroke="#000" stroke-width="1.1"><path d="M105.5 921.5h-4.9"/><path d="M105.5 889.5h-4.9"/><path d="M105.5 856.5h-4.9"/><path d="M105.5 823.5h-4.9"/><path d="M105.5 791.5h-4.9"/><path d="M105.5 758.5h-4.9"/><path d="M105.5 1009.5h-4.9"/><path d="M105.5 983.5h-4.9"/><path d="M105.5 957.5h-4.9"/></g><g stroke="#000" stroke-width="0.83"><path d="M105.5 996.5h-2.8"/><path d="M105.5 970.5h-2.8"/></g><g text-anchor="end"><text x="95.3" y="763.6">not Kalman</text><text x="95.3" y="796.3">not track</text><text x="95.3" y="829.0">Sat. pixel.</text><text x="95.3" y="861.6">Ion. rad.</text><text x="95.3" y="894.3">dr &gt; 5</text><text x="95.3" y="926.9">OBS not OK</text><text x="96.2" y="1013.6">0</text><text x="95.3" y="987.6">5</text><text x="94.5" y="961.6">10</text></g><text transform="translate(68.8 983.5) rotate(-90)" text-anchor="middle">dr</text></svg></body></html>
